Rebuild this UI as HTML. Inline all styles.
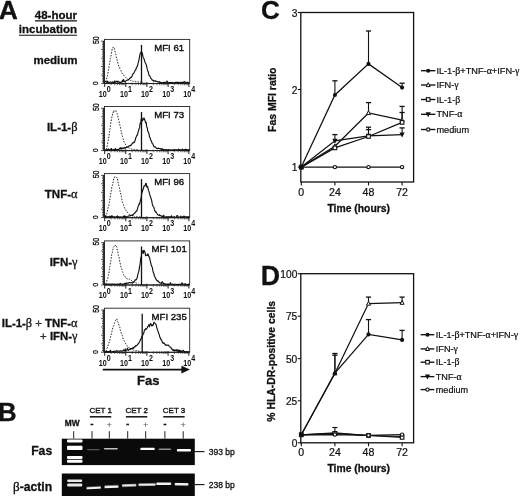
<!DOCTYPE html>
<html><head><meta charset="utf-8"><title>Figure</title>
<style>
html,body{margin:0;padding:0;background:#fff;}
body{width:520px;height:496px;overflow:hidden;font-family:"Liberation Sans", sans-serif;}
svg{display:block;font-family:"Liberation Sans", sans-serif;}
</style></head><body>
<svg width="520" height="496" viewBox="0 0 520 496">
<rect width="520" height="496" fill="#fff"/>
<text x="-1.2" y="19.0" font-size="26.5" text-anchor="start" font-weight="700" stroke="#111" stroke-width="0.3" fill="#111" >A</text>
<text x="77" y="19.2" font-size="11.5" text-anchor="end" font-weight="700" stroke="#111" stroke-width="0.3" fill="#111" >48-hour</text>
<line x1="35" y1="20.9" x2="77" y2="20.9" stroke="#111" stroke-width="1.1"/>
<text x="77" y="33.2" font-size="11.5" text-anchor="end" font-weight="700" stroke="#111" stroke-width="0.3" fill="#111" >incubation</text>
<line x1="19" y1="35.3" x2="77" y2="35.3" stroke="#111" stroke-width="1.1"/>
<rect x="104.4" y="39.4" width="85.29999999999998" height="44.0" fill="#fff" stroke="#222" stroke-width="0.9"/>
<line x1="103.9" y1="40.9" x2="103.9" y2="83.4" stroke="#222" stroke-width="1.5"/>
<line x1="101.10000000000001" y1="83.4" x2="104.4" y2="83.4" stroke="#222" stroke-width="0.8"/>
<line x1="102.10000000000001" y1="81.7" x2="104.4" y2="81.7" stroke="#222" stroke-width="0.8"/>
<line x1="102.10000000000001" y1="80.0" x2="104.4" y2="80.0" stroke="#222" stroke-width="0.8"/>
<line x1="102.10000000000001" y1="78.3" x2="104.4" y2="78.3" stroke="#222" stroke-width="0.8"/>
<line x1="102.10000000000001" y1="76.6" x2="104.4" y2="76.6" stroke="#222" stroke-width="0.8"/>
<line x1="101.10000000000001" y1="75.0" x2="104.4" y2="75.0" stroke="#222" stroke-width="0.8"/>
<line x1="102.10000000000001" y1="73.3" x2="104.4" y2="73.3" stroke="#222" stroke-width="0.8"/>
<line x1="102.10000000000001" y1="71.6" x2="104.4" y2="71.6" stroke="#222" stroke-width="0.8"/>
<line x1="102.10000000000001" y1="69.9" x2="104.4" y2="69.9" stroke="#222" stroke-width="0.8"/>
<line x1="102.10000000000001" y1="68.2" x2="104.4" y2="68.2" stroke="#222" stroke-width="0.8"/>
<line x1="101.10000000000001" y1="66.5" x2="104.4" y2="66.5" stroke="#222" stroke-width="0.8"/>
<line x1="102.10000000000001" y1="64.8" x2="104.4" y2="64.8" stroke="#222" stroke-width="0.8"/>
<line x1="102.10000000000001" y1="63.1" x2="104.4" y2="63.1" stroke="#222" stroke-width="0.8"/>
<line x1="102.10000000000001" y1="61.5" x2="104.4" y2="61.5" stroke="#222" stroke-width="0.8"/>
<line x1="102.10000000000001" y1="59.8" x2="104.4" y2="59.8" stroke="#222" stroke-width="0.8"/>
<line x1="101.10000000000001" y1="58.1" x2="104.4" y2="58.1" stroke="#222" stroke-width="0.8"/>
<line x1="102.10000000000001" y1="56.4" x2="104.4" y2="56.4" stroke="#222" stroke-width="0.8"/>
<line x1="102.10000000000001" y1="54.7" x2="104.4" y2="54.7" stroke="#222" stroke-width="0.8"/>
<line x1="102.10000000000001" y1="53.0" x2="104.4" y2="53.0" stroke="#222" stroke-width="0.8"/>
<line x1="102.10000000000001" y1="51.3" x2="104.4" y2="51.3" stroke="#222" stroke-width="0.8"/>
<line x1="101.10000000000001" y1="49.6" x2="104.4" y2="49.6" stroke="#222" stroke-width="0.8"/>
<line x1="102.10000000000001" y1="48.0" x2="104.4" y2="48.0" stroke="#222" stroke-width="0.8"/>
<line x1="102.10000000000001" y1="46.3" x2="104.4" y2="46.3" stroke="#222" stroke-width="0.8"/>
<line x1="102.10000000000001" y1="44.6" x2="104.4" y2="44.6" stroke="#222" stroke-width="0.8"/>
<line x1="102.10000000000001" y1="42.9" x2="104.4" y2="42.9" stroke="#222" stroke-width="0.8"/>
<line x1="101.10000000000001" y1="41.2" x2="104.4" y2="41.2" stroke="#222" stroke-width="0.8"/>
<line x1="104.4" y1="83.60000000000001" x2="189.7" y2="83.60000000000001" stroke="#222" stroke-width="1.0"/>
<line x1="104.7" y1="82.2" x2="104.7" y2="87.0" stroke="#222" stroke-width="1.0"/>
<line x1="111.1" y1="82.60000000000001" x2="111.1" y2="85.2" stroke="#222" stroke-width="0.6"/>
<line x1="114.8" y1="82.60000000000001" x2="114.8" y2="85.2" stroke="#222" stroke-width="0.6"/>
<line x1="117.4" y1="82.60000000000001" x2="117.4" y2="85.2" stroke="#222" stroke-width="0.6"/>
<line x1="119.5" y1="82.60000000000001" x2="119.5" y2="85.2" stroke="#222" stroke-width="0.6"/>
<line x1="121.1" y1="82.60000000000001" x2="121.1" y2="85.2" stroke="#222" stroke-width="0.6"/>
<line x1="122.5" y1="82.60000000000001" x2="122.5" y2="85.2" stroke="#222" stroke-width="0.6"/>
<line x1="123.8" y1="82.60000000000001" x2="123.8" y2="85.2" stroke="#222" stroke-width="0.6"/>
<line x1="124.9" y1="82.60000000000001" x2="124.9" y2="85.2" stroke="#222" stroke-width="0.6"/>
<line x1="125.8" y1="82.2" x2="125.8" y2="87.0" stroke="#222" stroke-width="1.0"/>
<line x1="132.2" y1="82.60000000000001" x2="132.2" y2="85.2" stroke="#222" stroke-width="0.6"/>
<line x1="135.9" y1="82.60000000000001" x2="135.9" y2="85.2" stroke="#222" stroke-width="0.6"/>
<line x1="138.5" y1="82.60000000000001" x2="138.5" y2="85.2" stroke="#222" stroke-width="0.6"/>
<line x1="140.6" y1="82.60000000000001" x2="140.6" y2="85.2" stroke="#222" stroke-width="0.6"/>
<line x1="142.3" y1="82.60000000000001" x2="142.3" y2="85.2" stroke="#222" stroke-width="0.6"/>
<line x1="143.7" y1="82.60000000000001" x2="143.7" y2="85.2" stroke="#222" stroke-width="0.6"/>
<line x1="144.9" y1="82.60000000000001" x2="144.9" y2="85.2" stroke="#222" stroke-width="0.6"/>
<line x1="146.0" y1="82.60000000000001" x2="146.0" y2="85.2" stroke="#222" stroke-width="0.6"/>
<line x1="146.9" y1="82.2" x2="146.9" y2="87.0" stroke="#222" stroke-width="1.0"/>
<line x1="153.3" y1="82.60000000000001" x2="153.3" y2="85.2" stroke="#222" stroke-width="0.6"/>
<line x1="157.0" y1="82.60000000000001" x2="157.0" y2="85.2" stroke="#222" stroke-width="0.6"/>
<line x1="159.7" y1="82.60000000000001" x2="159.7" y2="85.2" stroke="#222" stroke-width="0.6"/>
<line x1="161.7" y1="82.60000000000001" x2="161.7" y2="85.2" stroke="#222" stroke-width="0.6"/>
<line x1="163.4" y1="82.60000000000001" x2="163.4" y2="85.2" stroke="#222" stroke-width="0.6"/>
<line x1="164.8" y1="82.60000000000001" x2="164.8" y2="85.2" stroke="#222" stroke-width="0.6"/>
<line x1="166.0" y1="82.60000000000001" x2="166.0" y2="85.2" stroke="#222" stroke-width="0.6"/>
<line x1="167.1" y1="82.60000000000001" x2="167.1" y2="85.2" stroke="#222" stroke-width="0.6"/>
<line x1="168.1" y1="82.2" x2="168.1" y2="87.0" stroke="#222" stroke-width="1.0"/>
<line x1="174.4" y1="82.60000000000001" x2="174.4" y2="85.2" stroke="#222" stroke-width="0.6"/>
<line x1="178.1" y1="82.60000000000001" x2="178.1" y2="85.2" stroke="#222" stroke-width="0.6"/>
<line x1="180.8" y1="82.60000000000001" x2="180.8" y2="85.2" stroke="#222" stroke-width="0.6"/>
<line x1="182.8" y1="82.60000000000001" x2="182.8" y2="85.2" stroke="#222" stroke-width="0.6"/>
<line x1="184.5" y1="82.60000000000001" x2="184.5" y2="85.2" stroke="#222" stroke-width="0.6"/>
<line x1="185.9" y1="82.60000000000001" x2="185.9" y2="85.2" stroke="#222" stroke-width="0.6"/>
<line x1="187.1" y1="82.60000000000001" x2="187.1" y2="85.2" stroke="#222" stroke-width="0.6"/>
<line x1="188.2" y1="82.60000000000001" x2="188.2" y2="85.2" stroke="#222" stroke-width="0.6"/>
<line x1="188.9" y1="82.2" x2="188.9" y2="87.0" stroke="#222" stroke-width="1.0"/>
<text transform="translate(106.8,96.7) scale(0.77,1)" font-size="9.3" font-weight="700" text-anchor="end" fill="#111">10</text>
<text transform="translate(106.8,92.2) scale(0.78,1)" font-size="9.1" font-weight="700" text-anchor="start" fill="#111">0</text>
<text transform="translate(127.9,96.7) scale(0.77,1)" font-size="9.3" font-weight="700" text-anchor="end" fill="#111">10</text>
<text transform="translate(127.9,92.2) scale(0.78,1)" font-size="9.1" font-weight="700" text-anchor="start" fill="#111">1</text>
<text transform="translate(149.0,96.7) scale(0.77,1)" font-size="9.3" font-weight="700" text-anchor="end" fill="#111">10</text>
<text transform="translate(149.0,92.2) scale(0.78,1)" font-size="9.1" font-weight="700" text-anchor="start" fill="#111">2</text>
<text transform="translate(170.2,96.7) scale(0.77,1)" font-size="9.3" font-weight="700" text-anchor="end" fill="#111">10</text>
<text transform="translate(170.2,92.2) scale(0.78,1)" font-size="9.1" font-weight="700" text-anchor="start" fill="#111">3</text>
<text transform="translate(191.3,96.7) scale(0.77,1)" font-size="9.3" font-weight="700" text-anchor="end" fill="#111">10</text>
<text transform="translate(191.3,92.2) scale(0.78,1)" font-size="9.1" font-weight="700" text-anchor="start" fill="#111">4</text>
<text transform="translate(98.80000000000001,40.199999999999996) rotate(-90) scale(0.8,1)" font-size="8.6" text-anchor="middle" fill="#111" stroke="#111" stroke-width="0.35">50</text>
<text transform="translate(98.2,83.10000000000001) rotate(-90) scale(0.8,1)" font-size="8" text-anchor="middle" fill="#111" stroke="#111" stroke-width="0.35">0</text>
<path d="M105.9,82.0 L106.4,80.1 L106.9,77.5 L107.4,75.8 L107.9,73.1 L108.4,70.5 L108.9,67.8 L109.4,64.3 L109.9,62.0 L110.4,58.5 L110.9,56.3 L111.4,53.5 L111.9,50.3 L112.4,48.1 L112.9,48.1 L113.4,47.0 L113.9,47.6 L114.4,48.4 L114.9,50.8 L115.4,53.3 L115.9,54.5 L116.4,58.2 L116.9,58.7 L117.4,61.3 L117.9,63.3 L118.4,65.0 L118.9,66.2 L119.4,66.7 L119.9,68.6 L120.4,69.3 L120.9,70.4 L121.4,71.9 L121.9,72.7 L122.4,73.9 L122.9,74.5 L123.4,75.1 L123.9,75.3 L124.4,76.2 L124.9,76.9 L125.4,77.1 L125.9,77.6 L126.4,78.1 L126.9,78.1 L127.4,78.5 L127.9,79.2 L128.4,79.4 L128.9,79.8 L129.4,79.8 L129.9,80.1 L130.4,80.5 L130.9,80.2 L131.4,80.9 L131.9,80.8 L132.4,80.8 L132.9,81.3 L133.4,81.2 L133.9,81.6 L134.4,81.3 L134.9,81.3 L135.4,81.5 L135.9,81.3 L136.4,81.6 L136.9,81.6 L137.4,81.8 L137.9,81.9 L138.4,81.9 L138.9,81.7 L139.4,81.7 L139.9,82.2 L140.4,82.1 L140.9,81.9 L141.4,82.2 L141.9,82.3 L142.4,82.1 L142.9,82.3" fill="none" stroke="#222" stroke-width="1" stroke-dasharray="1.5 1.4"/>
<path d="M104.9,82.3 L105.5,81.3 L106.0,81.5 L106.5,82.3 L107.1,82.3 L107.6,81.1 L108.2,82.6 L108.7,82.2 L109.3,82.3 L109.8,82.4 L110.4,82.0 L110.9,82.2 L111.5,82.3 L112.0,82.5 L112.6,81.9 L113.1,82.4 L113.7,82.0 L114.2,82.6 L114.8,80.9 L115.3,82.2 L115.9,82.2 L116.4,81.3 L117.0,81.2 L117.5,82.2 L118.1,81.2 L118.6,82.1 L119.2,82.0 L119.7,82.5 L120.3,82.3 L120.8,82.4 L121.4,82.1 L121.9,82.0 L122.5,80.3 L123.0,81.4 L123.6,79.5 L124.1,81.4 L124.7,81.3 L125.2,81.7 L125.8,81.0 L126.3,80.3 L126.9,80.3 L127.4,80.1 L128.0,80.2 L128.5,79.6 L129.1,79.4 L129.6,78.2 L130.2,78.1 L130.7,77.3 L131.3,77.4 L131.8,76.8 L132.4,75.1 L132.9,74.0 L133.5,73.4 L134.1,72.6 L134.6,71.6 L135.2,70.3 L135.7,70.0 L136.3,68.0 L136.8,67.0 L137.4,66.1 L137.9,64.2 L138.5,61.7 L139.0,59.8 L139.6,56.5 L140.1,53.5 L140.7,53.1 L141.2,51.6 L141.8,52.3 L142.3,53.2 L142.9,56.2 L143.4,57.7 L144.0,58.7 L144.5,60.6 L145.1,62.5 L145.6,63.3 L146.2,64.6 L146.7,66.7 L147.3,69.4 L147.8,71.0 L148.4,72.5 L148.9,75.1 L149.5,75.6 L150.0,76.6 L150.6,77.8 L151.1,78.4 L151.7,79.3 L152.2,80.2 L152.8,80.0 L153.3,81.1 L153.9,80.8 L154.4,80.8 L155.0,81.3 L155.5,80.8 L156.1,81.2 L156.6,81.3 L157.2,81.5 L157.7,81.6 L158.3,82.0 L158.8,82.2 L159.4,81.7 L159.9,82.7 L160.5,82.3 L161.0,82.4 L161.6,82.5 L162.1,82.6 L162.7,82.8 L163.2,82.8 L163.8,82.3 L164.3,82.8 L164.9,82.3 L165.4,82.3 L166.0,82.8 L166.5,82.2 L167.1,81.0 L167.6,82.4 L168.2,82.6 L168.7,82.6 L169.3,82.8 L169.8,82.3 L170.4,82.5 L170.9,82.5 L171.5,82.8 L172.0,82.3 L172.6,82.7 L173.1,82.9 L173.7,82.8 L174.2,82.9 L174.8,82.6 L175.3,82.3 L175.9,82.8 L176.4,82.4 L177.0,82.4 L177.5,82.3 L178.1,82.3 L178.6,82.5 L179.2,82.4 L179.7,82.7 L180.3,82.4 L180.8,82.5 L181.4,82.7 L181.9,82.2 L182.5,82.4 L183.0,82.9 L183.6,82.5 L184.1,81.4 L184.7,81.9 L185.2,82.7 L185.8,82.3 L186.3,82.5 L186.9,82.3 L187.4,82.2 L188.0,82.6 L188.5,82.8 L189.1,82.4" fill="none" stroke="#111" stroke-width="1.15" stroke-linejoin="round"/>
<line x1="141.5" y1="44.9" x2="141.5" y2="83.4" stroke="#111" stroke-width="1.3"/>
<text x="169.2" y="50.8" font-size="9.6" text-anchor="middle" stroke="#111" stroke-width="0.4" fill="#111" >MFI 61</text>
<text x="77.5" y="64.2" font-size="11.5" text-anchor="end" font-weight="700" stroke="#111" stroke-width="0.3" fill="#111" >medium</text>
<rect x="104.4" y="106.5" width="85.29999999999998" height="44.0" fill="#fff" stroke="#222" stroke-width="0.9"/>
<line x1="103.9" y1="108.0" x2="103.9" y2="150.5" stroke="#222" stroke-width="1.5"/>
<line x1="101.10000000000001" y1="150.5" x2="104.4" y2="150.5" stroke="#222" stroke-width="0.8"/>
<line x1="102.10000000000001" y1="148.8" x2="104.4" y2="148.8" stroke="#222" stroke-width="0.8"/>
<line x1="102.10000000000001" y1="147.1" x2="104.4" y2="147.1" stroke="#222" stroke-width="0.8"/>
<line x1="102.10000000000001" y1="145.4" x2="104.4" y2="145.4" stroke="#222" stroke-width="0.8"/>
<line x1="102.10000000000001" y1="143.7" x2="104.4" y2="143.7" stroke="#222" stroke-width="0.8"/>
<line x1="101.10000000000001" y1="142.1" x2="104.4" y2="142.1" stroke="#222" stroke-width="0.8"/>
<line x1="102.10000000000001" y1="140.4" x2="104.4" y2="140.4" stroke="#222" stroke-width="0.8"/>
<line x1="102.10000000000001" y1="138.7" x2="104.4" y2="138.7" stroke="#222" stroke-width="0.8"/>
<line x1="102.10000000000001" y1="137.0" x2="104.4" y2="137.0" stroke="#222" stroke-width="0.8"/>
<line x1="102.10000000000001" y1="135.3" x2="104.4" y2="135.3" stroke="#222" stroke-width="0.8"/>
<line x1="101.10000000000001" y1="133.6" x2="104.4" y2="133.6" stroke="#222" stroke-width="0.8"/>
<line x1="102.10000000000001" y1="131.9" x2="104.4" y2="131.9" stroke="#222" stroke-width="0.8"/>
<line x1="102.10000000000001" y1="130.2" x2="104.4" y2="130.2" stroke="#222" stroke-width="0.8"/>
<line x1="102.10000000000001" y1="128.6" x2="104.4" y2="128.6" stroke="#222" stroke-width="0.8"/>
<line x1="102.10000000000001" y1="126.9" x2="104.4" y2="126.9" stroke="#222" stroke-width="0.8"/>
<line x1="101.10000000000001" y1="125.2" x2="104.4" y2="125.2" stroke="#222" stroke-width="0.8"/>
<line x1="102.10000000000001" y1="123.5" x2="104.4" y2="123.5" stroke="#222" stroke-width="0.8"/>
<line x1="102.10000000000001" y1="121.8" x2="104.4" y2="121.8" stroke="#222" stroke-width="0.8"/>
<line x1="102.10000000000001" y1="120.1" x2="104.4" y2="120.1" stroke="#222" stroke-width="0.8"/>
<line x1="102.10000000000001" y1="118.4" x2="104.4" y2="118.4" stroke="#222" stroke-width="0.8"/>
<line x1="101.10000000000001" y1="116.7" x2="104.4" y2="116.7" stroke="#222" stroke-width="0.8"/>
<line x1="102.10000000000001" y1="115.1" x2="104.4" y2="115.1" stroke="#222" stroke-width="0.8"/>
<line x1="102.10000000000001" y1="113.4" x2="104.4" y2="113.4" stroke="#222" stroke-width="0.8"/>
<line x1="102.10000000000001" y1="111.7" x2="104.4" y2="111.7" stroke="#222" stroke-width="0.8"/>
<line x1="102.10000000000001" y1="110.0" x2="104.4" y2="110.0" stroke="#222" stroke-width="0.8"/>
<line x1="101.10000000000001" y1="108.3" x2="104.4" y2="108.3" stroke="#222" stroke-width="0.8"/>
<line x1="104.4" y1="150.7" x2="189.7" y2="150.7" stroke="#222" stroke-width="1.0"/>
<line x1="104.7" y1="149.3" x2="104.7" y2="154.1" stroke="#222" stroke-width="1.0"/>
<line x1="111.1" y1="149.7" x2="111.1" y2="152.3" stroke="#222" stroke-width="0.6"/>
<line x1="114.8" y1="149.7" x2="114.8" y2="152.3" stroke="#222" stroke-width="0.6"/>
<line x1="117.4" y1="149.7" x2="117.4" y2="152.3" stroke="#222" stroke-width="0.6"/>
<line x1="119.5" y1="149.7" x2="119.5" y2="152.3" stroke="#222" stroke-width="0.6"/>
<line x1="121.1" y1="149.7" x2="121.1" y2="152.3" stroke="#222" stroke-width="0.6"/>
<line x1="122.5" y1="149.7" x2="122.5" y2="152.3" stroke="#222" stroke-width="0.6"/>
<line x1="123.8" y1="149.7" x2="123.8" y2="152.3" stroke="#222" stroke-width="0.6"/>
<line x1="124.9" y1="149.7" x2="124.9" y2="152.3" stroke="#222" stroke-width="0.6"/>
<line x1="125.8" y1="149.3" x2="125.8" y2="154.1" stroke="#222" stroke-width="1.0"/>
<line x1="132.2" y1="149.7" x2="132.2" y2="152.3" stroke="#222" stroke-width="0.6"/>
<line x1="135.9" y1="149.7" x2="135.9" y2="152.3" stroke="#222" stroke-width="0.6"/>
<line x1="138.5" y1="149.7" x2="138.5" y2="152.3" stroke="#222" stroke-width="0.6"/>
<line x1="140.6" y1="149.7" x2="140.6" y2="152.3" stroke="#222" stroke-width="0.6"/>
<line x1="142.3" y1="149.7" x2="142.3" y2="152.3" stroke="#222" stroke-width="0.6"/>
<line x1="143.7" y1="149.7" x2="143.7" y2="152.3" stroke="#222" stroke-width="0.6"/>
<line x1="144.9" y1="149.7" x2="144.9" y2="152.3" stroke="#222" stroke-width="0.6"/>
<line x1="146.0" y1="149.7" x2="146.0" y2="152.3" stroke="#222" stroke-width="0.6"/>
<line x1="146.9" y1="149.3" x2="146.9" y2="154.1" stroke="#222" stroke-width="1.0"/>
<line x1="153.3" y1="149.7" x2="153.3" y2="152.3" stroke="#222" stroke-width="0.6"/>
<line x1="157.0" y1="149.7" x2="157.0" y2="152.3" stroke="#222" stroke-width="0.6"/>
<line x1="159.7" y1="149.7" x2="159.7" y2="152.3" stroke="#222" stroke-width="0.6"/>
<line x1="161.7" y1="149.7" x2="161.7" y2="152.3" stroke="#222" stroke-width="0.6"/>
<line x1="163.4" y1="149.7" x2="163.4" y2="152.3" stroke="#222" stroke-width="0.6"/>
<line x1="164.8" y1="149.7" x2="164.8" y2="152.3" stroke="#222" stroke-width="0.6"/>
<line x1="166.0" y1="149.7" x2="166.0" y2="152.3" stroke="#222" stroke-width="0.6"/>
<line x1="167.1" y1="149.7" x2="167.1" y2="152.3" stroke="#222" stroke-width="0.6"/>
<line x1="168.1" y1="149.3" x2="168.1" y2="154.1" stroke="#222" stroke-width="1.0"/>
<line x1="174.4" y1="149.7" x2="174.4" y2="152.3" stroke="#222" stroke-width="0.6"/>
<line x1="178.1" y1="149.7" x2="178.1" y2="152.3" stroke="#222" stroke-width="0.6"/>
<line x1="180.8" y1="149.7" x2="180.8" y2="152.3" stroke="#222" stroke-width="0.6"/>
<line x1="182.8" y1="149.7" x2="182.8" y2="152.3" stroke="#222" stroke-width="0.6"/>
<line x1="184.5" y1="149.7" x2="184.5" y2="152.3" stroke="#222" stroke-width="0.6"/>
<line x1="185.9" y1="149.7" x2="185.9" y2="152.3" stroke="#222" stroke-width="0.6"/>
<line x1="187.1" y1="149.7" x2="187.1" y2="152.3" stroke="#222" stroke-width="0.6"/>
<line x1="188.2" y1="149.7" x2="188.2" y2="152.3" stroke="#222" stroke-width="0.6"/>
<line x1="188.9" y1="149.3" x2="188.9" y2="154.1" stroke="#222" stroke-width="1.0"/>
<text transform="translate(106.8,163.8) scale(0.77,1)" font-size="9.3" font-weight="700" text-anchor="end" fill="#111">10</text>
<text transform="translate(106.8,159.3) scale(0.78,1)" font-size="9.1" font-weight="700" text-anchor="start" fill="#111">0</text>
<text transform="translate(127.9,163.8) scale(0.77,1)" font-size="9.3" font-weight="700" text-anchor="end" fill="#111">10</text>
<text transform="translate(127.9,159.3) scale(0.78,1)" font-size="9.1" font-weight="700" text-anchor="start" fill="#111">1</text>
<text transform="translate(149.0,163.8) scale(0.77,1)" font-size="9.3" font-weight="700" text-anchor="end" fill="#111">10</text>
<text transform="translate(149.0,159.3) scale(0.78,1)" font-size="9.1" font-weight="700" text-anchor="start" fill="#111">2</text>
<text transform="translate(170.2,163.8) scale(0.77,1)" font-size="9.3" font-weight="700" text-anchor="end" fill="#111">10</text>
<text transform="translate(170.2,159.3) scale(0.78,1)" font-size="9.1" font-weight="700" text-anchor="start" fill="#111">3</text>
<text transform="translate(191.3,163.8) scale(0.77,1)" font-size="9.3" font-weight="700" text-anchor="end" fill="#111">10</text>
<text transform="translate(191.3,159.3) scale(0.78,1)" font-size="9.1" font-weight="700" text-anchor="start" fill="#111">4</text>
<text transform="translate(98.80000000000001,107.3) rotate(-90) scale(0.8,1)" font-size="8.6" text-anchor="middle" fill="#111" stroke="#111" stroke-width="0.35">50</text>
<text transform="translate(98.2,150.2) rotate(-90) scale(0.8,1)" font-size="8" text-anchor="middle" fill="#111" stroke="#111" stroke-width="0.35">0</text>
<path d="M106.5,149.6 L107.0,146.8 L107.5,144.3 L108.0,141.4 L108.5,139.3 L109.0,136.0 L109.5,131.8 L110.0,128.6 L110.5,125.7 L111.0,121.4 L111.5,119.3 L112.0,116.5 L112.5,115.4 L113.0,111.9 L113.5,112.9 L114.0,110.7 L114.5,111.0 L115.0,110.7 L115.5,110.8 L116.0,110.7 L116.5,112.6 L117.0,113.5 L117.5,114.5 L118.0,117.0 L118.5,119.2 L119.0,121.1 L119.5,123.6 L120.0,125.8 L120.5,128.1 L121.0,130.6 L121.5,132.3 L122.0,134.7 L122.5,136.4 L123.0,138.6 L123.5,140.3 L124.0,142.1 L124.5,142.8 L125.0,143.9 L125.5,144.2 L126.0,145.2 L126.5,146.4 L127.0,147.1 L127.5,147.0 L128.0,147.8 L128.5,147.6 L129.0,148.0 L129.5,148.2 L130.0,148.2 L130.5,148.5 L131.0,148.9 L131.5,148.9 L132.0,148.9 L132.5,149.3 L133.0,149.2 L133.5,149.4 L134.0,149.5 L134.5,149.6 L135.0,149.6 L135.5,149.4 L136.0,149.6 L136.5,149.6 L137.0,149.8 L137.5,149.8 L138.0,149.8 L138.5,149.8 L139.0,149.9 L139.5,150.0" fill="none" stroke="#222" stroke-width="1" stroke-dasharray="1.5 1.4"/>
<path d="M104.9,149.9 L105.5,149.8 L106.0,150.1 L106.5,150.0 L107.1,149.5 L107.6,150.1 L108.2,149.5 L108.7,148.9 L109.3,150.1 L109.8,149.7 L110.4,149.4 L110.9,149.5 L111.5,148.6 L112.0,149.7 L112.6,150.1 L113.1,149.9 L113.7,149.6 L114.2,149.9 L114.8,149.6 L115.3,148.5 L115.9,149.6 L116.4,149.8 L117.0,149.6 L117.5,149.8 L118.1,149.3 L118.6,149.5 L119.2,149.3 L119.7,148.3 L120.3,147.7 L120.8,149.1 L121.4,148.9 L121.9,147.6 L122.5,148.5 L123.0,148.7 L123.6,148.0 L124.1,147.3 L124.7,148.2 L125.2,148.5 L125.8,147.7 L126.3,147.1 L126.9,147.4 L127.4,147.2 L128.0,146.8 L128.5,146.3 L129.1,145.9 L129.6,145.8 L130.2,145.4 L130.7,145.6 L131.3,145.0 L131.8,144.3 L132.4,143.1 L132.9,143.2 L133.5,142.2 L134.1,142.6 L134.6,141.7 L135.2,140.1 L135.7,138.1 L136.3,136.8 L136.8,135.5 L137.4,135.0 L137.9,132.8 L138.5,130.9 L139.0,128.8 L139.6,127.8 L140.1,123.4 L140.7,123.7 L141.2,119.3 L141.8,117.5 L142.3,120.9 L142.9,119.9 L143.4,119.1 L144.0,117.9 L144.5,119.0 L145.1,121.0 L145.6,122.9 L146.2,122.4 L146.7,126.8 L147.3,128.0 L147.8,131.3 L148.4,132.4 L148.9,133.3 L149.5,136.9 L150.0,137.4 L150.6,139.8 L151.1,140.4 L151.7,141.8 L152.2,143.6 L152.8,143.7 L153.3,145.3 L153.9,146.5 L154.4,147.0 L155.0,146.8 L155.5,147.2 L156.1,147.8 L156.6,148.4 L157.2,148.6 L157.7,148.5 L158.3,148.1 L158.8,148.5 L159.4,148.5 L159.9,148.6 L160.5,149.2 L161.0,148.7 L161.6,149.4 L162.1,148.7 L162.7,149.3 L163.2,149.3 L163.8,149.7 L164.3,149.8 L164.9,149.6 L165.4,149.8 L166.0,149.7 L166.5,150.2 L167.1,149.6 L167.6,150.2 L168.2,150.0 L168.7,149.6 L169.3,149.7 L169.8,150.0 L170.4,149.9 L170.9,149.9 L171.5,150.0 L172.0,150.1 L172.6,149.8 L173.1,149.7 L173.7,149.9 L174.2,149.6 L174.8,149.7 L175.3,149.7 L175.9,149.7 L176.4,149.9 L177.0,149.7 L177.5,150.1 L178.1,150.2 L178.6,149.1 L179.2,149.6 L179.7,150.2 L180.3,149.7 L180.8,149.9 L181.4,150.1 L181.9,149.6 L182.5,149.1 L183.0,150.0 L183.6,150.2 L184.1,149.6 L184.7,149.7 L185.2,149.8 L185.8,149.1 L186.3,150.2 L186.9,149.6 L187.4,150.0 L188.0,150.2 L188.5,149.6 L189.1,149.9" fill="none" stroke="#111" stroke-width="1.15" stroke-linejoin="round"/>
<line x1="141.5" y1="112.0" x2="141.5" y2="150.5" stroke="#111" stroke-width="1.3"/>
<text x="169.2" y="117.9" font-size="9.6" text-anchor="middle" stroke="#111" stroke-width="0.4" fill="#111" >MFI 73</text>
<text x="77.5" y="130.8" font-size="11.5" text-anchor="end" font-weight="700" stroke="#111" stroke-width="0.3" fill="#111" >IL-1-<tspan font-family='"Liberation Serif", serif' font-weight="400" font-size="108%">β</tspan></text>
<rect x="104.4" y="173.6" width="85.29999999999998" height="44.0" fill="#fff" stroke="#222" stroke-width="0.9"/>
<line x1="103.9" y1="175.1" x2="103.9" y2="217.6" stroke="#222" stroke-width="1.5"/>
<line x1="101.10000000000001" y1="217.6" x2="104.4" y2="217.6" stroke="#222" stroke-width="0.8"/>
<line x1="102.10000000000001" y1="215.9" x2="104.4" y2="215.9" stroke="#222" stroke-width="0.8"/>
<line x1="102.10000000000001" y1="214.2" x2="104.4" y2="214.2" stroke="#222" stroke-width="0.8"/>
<line x1="102.10000000000001" y1="212.5" x2="104.4" y2="212.5" stroke="#222" stroke-width="0.8"/>
<line x1="102.10000000000001" y1="210.8" x2="104.4" y2="210.8" stroke="#222" stroke-width="0.8"/>
<line x1="101.10000000000001" y1="209.2" x2="104.4" y2="209.2" stroke="#222" stroke-width="0.8"/>
<line x1="102.10000000000001" y1="207.5" x2="104.4" y2="207.5" stroke="#222" stroke-width="0.8"/>
<line x1="102.10000000000001" y1="205.8" x2="104.4" y2="205.8" stroke="#222" stroke-width="0.8"/>
<line x1="102.10000000000001" y1="204.1" x2="104.4" y2="204.1" stroke="#222" stroke-width="0.8"/>
<line x1="102.10000000000001" y1="202.4" x2="104.4" y2="202.4" stroke="#222" stroke-width="0.8"/>
<line x1="101.10000000000001" y1="200.7" x2="104.4" y2="200.7" stroke="#222" stroke-width="0.8"/>
<line x1="102.10000000000001" y1="199.0" x2="104.4" y2="199.0" stroke="#222" stroke-width="0.8"/>
<line x1="102.10000000000001" y1="197.3" x2="104.4" y2="197.3" stroke="#222" stroke-width="0.8"/>
<line x1="102.10000000000001" y1="195.7" x2="104.4" y2="195.7" stroke="#222" stroke-width="0.8"/>
<line x1="102.10000000000001" y1="194.0" x2="104.4" y2="194.0" stroke="#222" stroke-width="0.8"/>
<line x1="101.10000000000001" y1="192.3" x2="104.4" y2="192.3" stroke="#222" stroke-width="0.8"/>
<line x1="102.10000000000001" y1="190.6" x2="104.4" y2="190.6" stroke="#222" stroke-width="0.8"/>
<line x1="102.10000000000001" y1="188.9" x2="104.4" y2="188.9" stroke="#222" stroke-width="0.8"/>
<line x1="102.10000000000001" y1="187.2" x2="104.4" y2="187.2" stroke="#222" stroke-width="0.8"/>
<line x1="102.10000000000001" y1="185.5" x2="104.4" y2="185.5" stroke="#222" stroke-width="0.8"/>
<line x1="101.10000000000001" y1="183.8" x2="104.4" y2="183.8" stroke="#222" stroke-width="0.8"/>
<line x1="102.10000000000001" y1="182.2" x2="104.4" y2="182.2" stroke="#222" stroke-width="0.8"/>
<line x1="102.10000000000001" y1="180.5" x2="104.4" y2="180.5" stroke="#222" stroke-width="0.8"/>
<line x1="102.10000000000001" y1="178.8" x2="104.4" y2="178.8" stroke="#222" stroke-width="0.8"/>
<line x1="102.10000000000001" y1="177.1" x2="104.4" y2="177.1" stroke="#222" stroke-width="0.8"/>
<line x1="101.10000000000001" y1="175.4" x2="104.4" y2="175.4" stroke="#222" stroke-width="0.8"/>
<line x1="104.4" y1="217.79999999999998" x2="189.7" y2="217.79999999999998" stroke="#222" stroke-width="1.0"/>
<line x1="104.7" y1="216.4" x2="104.7" y2="221.2" stroke="#222" stroke-width="1.0"/>
<line x1="111.1" y1="216.79999999999998" x2="111.1" y2="219.4" stroke="#222" stroke-width="0.6"/>
<line x1="114.8" y1="216.79999999999998" x2="114.8" y2="219.4" stroke="#222" stroke-width="0.6"/>
<line x1="117.4" y1="216.79999999999998" x2="117.4" y2="219.4" stroke="#222" stroke-width="0.6"/>
<line x1="119.5" y1="216.79999999999998" x2="119.5" y2="219.4" stroke="#222" stroke-width="0.6"/>
<line x1="121.1" y1="216.79999999999998" x2="121.1" y2="219.4" stroke="#222" stroke-width="0.6"/>
<line x1="122.5" y1="216.79999999999998" x2="122.5" y2="219.4" stroke="#222" stroke-width="0.6"/>
<line x1="123.8" y1="216.79999999999998" x2="123.8" y2="219.4" stroke="#222" stroke-width="0.6"/>
<line x1="124.9" y1="216.79999999999998" x2="124.9" y2="219.4" stroke="#222" stroke-width="0.6"/>
<line x1="125.8" y1="216.4" x2="125.8" y2="221.2" stroke="#222" stroke-width="1.0"/>
<line x1="132.2" y1="216.79999999999998" x2="132.2" y2="219.4" stroke="#222" stroke-width="0.6"/>
<line x1="135.9" y1="216.79999999999998" x2="135.9" y2="219.4" stroke="#222" stroke-width="0.6"/>
<line x1="138.5" y1="216.79999999999998" x2="138.5" y2="219.4" stroke="#222" stroke-width="0.6"/>
<line x1="140.6" y1="216.79999999999998" x2="140.6" y2="219.4" stroke="#222" stroke-width="0.6"/>
<line x1="142.3" y1="216.79999999999998" x2="142.3" y2="219.4" stroke="#222" stroke-width="0.6"/>
<line x1="143.7" y1="216.79999999999998" x2="143.7" y2="219.4" stroke="#222" stroke-width="0.6"/>
<line x1="144.9" y1="216.79999999999998" x2="144.9" y2="219.4" stroke="#222" stroke-width="0.6"/>
<line x1="146.0" y1="216.79999999999998" x2="146.0" y2="219.4" stroke="#222" stroke-width="0.6"/>
<line x1="146.9" y1="216.4" x2="146.9" y2="221.2" stroke="#222" stroke-width="1.0"/>
<line x1="153.3" y1="216.79999999999998" x2="153.3" y2="219.4" stroke="#222" stroke-width="0.6"/>
<line x1="157.0" y1="216.79999999999998" x2="157.0" y2="219.4" stroke="#222" stroke-width="0.6"/>
<line x1="159.7" y1="216.79999999999998" x2="159.7" y2="219.4" stroke="#222" stroke-width="0.6"/>
<line x1="161.7" y1="216.79999999999998" x2="161.7" y2="219.4" stroke="#222" stroke-width="0.6"/>
<line x1="163.4" y1="216.79999999999998" x2="163.4" y2="219.4" stroke="#222" stroke-width="0.6"/>
<line x1="164.8" y1="216.79999999999998" x2="164.8" y2="219.4" stroke="#222" stroke-width="0.6"/>
<line x1="166.0" y1="216.79999999999998" x2="166.0" y2="219.4" stroke="#222" stroke-width="0.6"/>
<line x1="167.1" y1="216.79999999999998" x2="167.1" y2="219.4" stroke="#222" stroke-width="0.6"/>
<line x1="168.1" y1="216.4" x2="168.1" y2="221.2" stroke="#222" stroke-width="1.0"/>
<line x1="174.4" y1="216.79999999999998" x2="174.4" y2="219.4" stroke="#222" stroke-width="0.6"/>
<line x1="178.1" y1="216.79999999999998" x2="178.1" y2="219.4" stroke="#222" stroke-width="0.6"/>
<line x1="180.8" y1="216.79999999999998" x2="180.8" y2="219.4" stroke="#222" stroke-width="0.6"/>
<line x1="182.8" y1="216.79999999999998" x2="182.8" y2="219.4" stroke="#222" stroke-width="0.6"/>
<line x1="184.5" y1="216.79999999999998" x2="184.5" y2="219.4" stroke="#222" stroke-width="0.6"/>
<line x1="185.9" y1="216.79999999999998" x2="185.9" y2="219.4" stroke="#222" stroke-width="0.6"/>
<line x1="187.1" y1="216.79999999999998" x2="187.1" y2="219.4" stroke="#222" stroke-width="0.6"/>
<line x1="188.2" y1="216.79999999999998" x2="188.2" y2="219.4" stroke="#222" stroke-width="0.6"/>
<line x1="188.9" y1="216.4" x2="188.9" y2="221.2" stroke="#222" stroke-width="1.0"/>
<text transform="translate(106.8,230.9) scale(0.77,1)" font-size="9.3" font-weight="700" text-anchor="end" fill="#111">10</text>
<text transform="translate(106.8,226.4) scale(0.78,1)" font-size="9.1" font-weight="700" text-anchor="start" fill="#111">0</text>
<text transform="translate(127.9,230.9) scale(0.77,1)" font-size="9.3" font-weight="700" text-anchor="end" fill="#111">10</text>
<text transform="translate(127.9,226.4) scale(0.78,1)" font-size="9.1" font-weight="700" text-anchor="start" fill="#111">1</text>
<text transform="translate(149.0,230.9) scale(0.77,1)" font-size="9.3" font-weight="700" text-anchor="end" fill="#111">10</text>
<text transform="translate(149.0,226.4) scale(0.78,1)" font-size="9.1" font-weight="700" text-anchor="start" fill="#111">2</text>
<text transform="translate(170.2,230.9) scale(0.77,1)" font-size="9.3" font-weight="700" text-anchor="end" fill="#111">10</text>
<text transform="translate(170.2,226.4) scale(0.78,1)" font-size="9.1" font-weight="700" text-anchor="start" fill="#111">3</text>
<text transform="translate(191.3,230.9) scale(0.77,1)" font-size="9.3" font-weight="700" text-anchor="end" fill="#111">10</text>
<text transform="translate(191.3,226.4) scale(0.78,1)" font-size="9.1" font-weight="700" text-anchor="start" fill="#111">4</text>
<text transform="translate(98.80000000000001,174.4) rotate(-90) scale(0.8,1)" font-size="8.6" text-anchor="middle" fill="#111" stroke="#111" stroke-width="0.35">50</text>
<text transform="translate(98.2,217.29999999999998) rotate(-90) scale(0.8,1)" font-size="8" text-anchor="middle" fill="#111" stroke="#111" stroke-width="0.35">0</text>
<path d="M105.9,217.1 L106.4,215.2 L106.9,213.2 L107.4,211.1 L107.9,208.7 L108.4,206.5 L108.9,205.0 L109.4,202.3 L109.9,198.7 L110.4,195.6 L110.9,192.8 L111.4,190.0 L111.9,186.4 L112.4,185.5 L112.9,183.0 L113.4,180.7 L113.9,177.7 L114.4,177.7 L114.9,176.6 L115.4,176.9 L115.9,177.0 L116.4,177.9 L116.9,177.4 L117.4,178.9 L117.9,181.5 L118.4,184.3 L118.9,185.7 L119.4,187.6 L119.9,190.3 L120.4,192.8 L120.9,194.5 L121.4,196.5 L121.9,199.7 L122.4,201.9 L122.9,203.0 L123.4,204.5 L123.9,205.8 L124.4,207.8 L124.9,208.8 L125.4,209.5 L125.9,210.3 L126.4,211.2 L126.9,211.2 L127.4,212.4 L127.9,212.6 L128.4,213.7 L128.9,214.3 L129.4,214.3 L129.9,214.9 L130.4,214.6 L130.9,215.1 L131.4,215.5 L131.9,215.7 L132.4,215.6 L132.9,215.8 L133.4,215.7 L133.9,216.0 L134.4,216.4 L134.9,216.4 L135.4,216.3 L135.9,216.4 L136.4,216.4 L136.9,216.5 L137.4,216.8 L137.9,216.7 L138.4,216.7 L138.9,216.9 L139.4,216.8 L139.9,216.9 L140.4,217.2" fill="none" stroke="#222" stroke-width="1" stroke-dasharray="1.5 1.4"/>
<path d="M104.9,216.9 L105.5,215.7 L106.0,217.2 L106.5,217.1 L107.1,216.7 L107.6,217.1 L108.2,216.8 L108.7,216.9 L109.3,216.9 L109.8,216.2 L110.4,217.2 L110.9,216.9 L111.5,215.8 L112.0,216.9 L112.6,216.0 L113.1,216.8 L113.7,217.0 L114.2,217.1 L114.8,216.7 L115.3,217.0 L115.9,217.1 L116.4,216.7 L117.0,216.8 L117.5,215.9 L118.1,217.3 L118.6,216.7 L119.2,217.0 L119.7,217.3 L120.3,216.9 L120.8,217.0 L121.4,217.0 L121.9,217.1 L122.5,217.2 L123.0,216.8 L123.6,217.0 L124.1,215.6 L124.7,217.1 L125.2,216.8 L125.8,216.3 L126.3,217.1 L126.9,216.9 L127.4,216.7 L128.0,216.4 L128.5,216.0 L129.1,215.8 L129.6,215.9 L130.2,215.9 L130.7,215.4 L131.3,215.4 L131.8,215.0 L132.4,215.6 L132.9,215.0 L133.5,213.7 L134.1,213.7 L134.6,213.5 L135.2,212.2 L135.7,211.9 L136.3,210.9 L136.8,211.1 L137.4,209.1 L137.9,207.1 L138.5,205.5 L139.0,203.9 L139.6,204.2 L140.1,201.6 L140.7,199.8 L141.2,197.4 L141.8,193.0 L142.3,191.8 L142.9,189.1 L143.4,189.2 L144.0,185.9 L144.5,185.9 L145.1,186.0 L145.6,183.7 L146.2,183.3 L146.7,187.0 L147.3,186.2 L147.8,187.3 L148.4,190.2 L148.9,191.4 L149.5,193.7 L150.0,195.4 L150.6,197.3 L151.1,198.6 L151.7,200.6 L152.2,203.7 L152.8,205.7 L153.3,206.6 L153.9,207.4 L154.4,209.7 L155.0,211.0 L155.5,212.1 L156.1,211.9 L156.6,212.9 L157.2,214.1 L157.7,214.7 L158.3,215.0 L158.8,215.4 L159.4,214.7 L159.9,215.5 L160.5,215.7 L161.0,215.5 L161.6,216.3 L162.1,216.4 L162.7,216.0 L163.2,216.5 L163.8,215.2 L164.3,217.2 L164.9,217.2 L165.4,217.3 L166.0,216.7 L166.5,217.2 L167.1,216.8 L167.6,217.2 L168.2,216.9 L168.7,217.3 L169.3,216.8 L169.8,216.9 L170.4,216.9 L170.9,216.7 L171.5,215.8 L172.0,217.2 L172.6,217.2 L173.1,216.9 L173.7,217.0 L174.2,216.9 L174.8,216.9 L175.3,217.2 L175.9,217.2 L176.4,217.0 L177.0,215.6 L177.5,215.6 L178.1,216.8 L178.6,217.3 L179.2,217.1 L179.7,217.2 L180.3,217.1 L180.8,216.0 L181.4,217.3 L181.9,217.0 L182.5,217.3 L183.0,216.6 L183.6,216.2 L184.1,216.1 L184.7,216.8 L185.2,217.0 L185.8,216.7 L186.3,217.2 L186.9,216.8 L187.4,216.7 L188.0,216.9 L188.5,216.7 L189.1,216.7" fill="none" stroke="#111" stroke-width="1.15" stroke-linejoin="round"/>
<line x1="141.5" y1="179.1" x2="141.5" y2="217.6" stroke="#111" stroke-width="1.3"/>
<text x="169.2" y="185.0" font-size="9.6" text-anchor="middle" stroke="#111" stroke-width="0.4" fill="#111" >MFI 96</text>
<text x="77.5" y="198.3" font-size="11.5" text-anchor="end" font-weight="700" stroke="#111" stroke-width="0.3" fill="#111" >TNF-<tspan font-family='"Liberation Serif", serif' font-weight="400" font-size="108%">α</tspan></text>
<rect x="104.4" y="240.9" width="85.29999999999998" height="44.0" fill="#fff" stroke="#222" stroke-width="0.9"/>
<line x1="103.9" y1="242.4" x2="103.9" y2="284.9" stroke="#222" stroke-width="1.5"/>
<line x1="101.10000000000001" y1="284.9" x2="104.4" y2="284.9" stroke="#222" stroke-width="0.8"/>
<line x1="102.10000000000001" y1="283.2" x2="104.4" y2="283.2" stroke="#222" stroke-width="0.8"/>
<line x1="102.10000000000001" y1="281.5" x2="104.4" y2="281.5" stroke="#222" stroke-width="0.8"/>
<line x1="102.10000000000001" y1="279.8" x2="104.4" y2="279.8" stroke="#222" stroke-width="0.8"/>
<line x1="102.10000000000001" y1="278.1" x2="104.4" y2="278.1" stroke="#222" stroke-width="0.8"/>
<line x1="101.10000000000001" y1="276.5" x2="104.4" y2="276.5" stroke="#222" stroke-width="0.8"/>
<line x1="102.10000000000001" y1="274.8" x2="104.4" y2="274.8" stroke="#222" stroke-width="0.8"/>
<line x1="102.10000000000001" y1="273.1" x2="104.4" y2="273.1" stroke="#222" stroke-width="0.8"/>
<line x1="102.10000000000001" y1="271.4" x2="104.4" y2="271.4" stroke="#222" stroke-width="0.8"/>
<line x1="102.10000000000001" y1="269.7" x2="104.4" y2="269.7" stroke="#222" stroke-width="0.8"/>
<line x1="101.10000000000001" y1="268.0" x2="104.4" y2="268.0" stroke="#222" stroke-width="0.8"/>
<line x1="102.10000000000001" y1="266.3" x2="104.4" y2="266.3" stroke="#222" stroke-width="0.8"/>
<line x1="102.10000000000001" y1="264.6" x2="104.4" y2="264.6" stroke="#222" stroke-width="0.8"/>
<line x1="102.10000000000001" y1="263.0" x2="104.4" y2="263.0" stroke="#222" stroke-width="0.8"/>
<line x1="102.10000000000001" y1="261.3" x2="104.4" y2="261.3" stroke="#222" stroke-width="0.8"/>
<line x1="101.10000000000001" y1="259.6" x2="104.4" y2="259.6" stroke="#222" stroke-width="0.8"/>
<line x1="102.10000000000001" y1="257.9" x2="104.4" y2="257.9" stroke="#222" stroke-width="0.8"/>
<line x1="102.10000000000001" y1="256.2" x2="104.4" y2="256.2" stroke="#222" stroke-width="0.8"/>
<line x1="102.10000000000001" y1="254.5" x2="104.4" y2="254.5" stroke="#222" stroke-width="0.8"/>
<line x1="102.10000000000001" y1="252.8" x2="104.4" y2="252.8" stroke="#222" stroke-width="0.8"/>
<line x1="101.10000000000001" y1="251.1" x2="104.4" y2="251.1" stroke="#222" stroke-width="0.8"/>
<line x1="102.10000000000001" y1="249.5" x2="104.4" y2="249.5" stroke="#222" stroke-width="0.8"/>
<line x1="102.10000000000001" y1="247.8" x2="104.4" y2="247.8" stroke="#222" stroke-width="0.8"/>
<line x1="102.10000000000001" y1="246.1" x2="104.4" y2="246.1" stroke="#222" stroke-width="0.8"/>
<line x1="102.10000000000001" y1="244.4" x2="104.4" y2="244.4" stroke="#222" stroke-width="0.8"/>
<line x1="101.10000000000001" y1="242.7" x2="104.4" y2="242.7" stroke="#222" stroke-width="0.8"/>
<line x1="104.4" y1="285.09999999999997" x2="189.7" y2="285.09999999999997" stroke="#222" stroke-width="1.0"/>
<line x1="104.7" y1="283.7" x2="104.7" y2="288.5" stroke="#222" stroke-width="1.0"/>
<line x1="111.1" y1="284.09999999999997" x2="111.1" y2="286.7" stroke="#222" stroke-width="0.6"/>
<line x1="114.8" y1="284.09999999999997" x2="114.8" y2="286.7" stroke="#222" stroke-width="0.6"/>
<line x1="117.4" y1="284.09999999999997" x2="117.4" y2="286.7" stroke="#222" stroke-width="0.6"/>
<line x1="119.5" y1="284.09999999999997" x2="119.5" y2="286.7" stroke="#222" stroke-width="0.6"/>
<line x1="121.1" y1="284.09999999999997" x2="121.1" y2="286.7" stroke="#222" stroke-width="0.6"/>
<line x1="122.5" y1="284.09999999999997" x2="122.5" y2="286.7" stroke="#222" stroke-width="0.6"/>
<line x1="123.8" y1="284.09999999999997" x2="123.8" y2="286.7" stroke="#222" stroke-width="0.6"/>
<line x1="124.9" y1="284.09999999999997" x2="124.9" y2="286.7" stroke="#222" stroke-width="0.6"/>
<line x1="125.8" y1="283.7" x2="125.8" y2="288.5" stroke="#222" stroke-width="1.0"/>
<line x1="132.2" y1="284.09999999999997" x2="132.2" y2="286.7" stroke="#222" stroke-width="0.6"/>
<line x1="135.9" y1="284.09999999999997" x2="135.9" y2="286.7" stroke="#222" stroke-width="0.6"/>
<line x1="138.5" y1="284.09999999999997" x2="138.5" y2="286.7" stroke="#222" stroke-width="0.6"/>
<line x1="140.6" y1="284.09999999999997" x2="140.6" y2="286.7" stroke="#222" stroke-width="0.6"/>
<line x1="142.3" y1="284.09999999999997" x2="142.3" y2="286.7" stroke="#222" stroke-width="0.6"/>
<line x1="143.7" y1="284.09999999999997" x2="143.7" y2="286.7" stroke="#222" stroke-width="0.6"/>
<line x1="144.9" y1="284.09999999999997" x2="144.9" y2="286.7" stroke="#222" stroke-width="0.6"/>
<line x1="146.0" y1="284.09999999999997" x2="146.0" y2="286.7" stroke="#222" stroke-width="0.6"/>
<line x1="146.9" y1="283.7" x2="146.9" y2="288.5" stroke="#222" stroke-width="1.0"/>
<line x1="153.3" y1="284.09999999999997" x2="153.3" y2="286.7" stroke="#222" stroke-width="0.6"/>
<line x1="157.0" y1="284.09999999999997" x2="157.0" y2="286.7" stroke="#222" stroke-width="0.6"/>
<line x1="159.7" y1="284.09999999999997" x2="159.7" y2="286.7" stroke="#222" stroke-width="0.6"/>
<line x1="161.7" y1="284.09999999999997" x2="161.7" y2="286.7" stroke="#222" stroke-width="0.6"/>
<line x1="163.4" y1="284.09999999999997" x2="163.4" y2="286.7" stroke="#222" stroke-width="0.6"/>
<line x1="164.8" y1="284.09999999999997" x2="164.8" y2="286.7" stroke="#222" stroke-width="0.6"/>
<line x1="166.0" y1="284.09999999999997" x2="166.0" y2="286.7" stroke="#222" stroke-width="0.6"/>
<line x1="167.1" y1="284.09999999999997" x2="167.1" y2="286.7" stroke="#222" stroke-width="0.6"/>
<line x1="168.1" y1="283.7" x2="168.1" y2="288.5" stroke="#222" stroke-width="1.0"/>
<line x1="174.4" y1="284.09999999999997" x2="174.4" y2="286.7" stroke="#222" stroke-width="0.6"/>
<line x1="178.1" y1="284.09999999999997" x2="178.1" y2="286.7" stroke="#222" stroke-width="0.6"/>
<line x1="180.8" y1="284.09999999999997" x2="180.8" y2="286.7" stroke="#222" stroke-width="0.6"/>
<line x1="182.8" y1="284.09999999999997" x2="182.8" y2="286.7" stroke="#222" stroke-width="0.6"/>
<line x1="184.5" y1="284.09999999999997" x2="184.5" y2="286.7" stroke="#222" stroke-width="0.6"/>
<line x1="185.9" y1="284.09999999999997" x2="185.9" y2="286.7" stroke="#222" stroke-width="0.6"/>
<line x1="187.1" y1="284.09999999999997" x2="187.1" y2="286.7" stroke="#222" stroke-width="0.6"/>
<line x1="188.2" y1="284.09999999999997" x2="188.2" y2="286.7" stroke="#222" stroke-width="0.6"/>
<line x1="188.9" y1="283.7" x2="188.9" y2="288.5" stroke="#222" stroke-width="1.0"/>
<text transform="translate(106.8,298.2) scale(0.77,1)" font-size="9.3" font-weight="700" text-anchor="end" fill="#111">10</text>
<text transform="translate(106.8,293.7) scale(0.78,1)" font-size="9.1" font-weight="700" text-anchor="start" fill="#111">0</text>
<text transform="translate(127.9,298.2) scale(0.77,1)" font-size="9.3" font-weight="700" text-anchor="end" fill="#111">10</text>
<text transform="translate(127.9,293.7) scale(0.78,1)" font-size="9.1" font-weight="700" text-anchor="start" fill="#111">1</text>
<text transform="translate(149.0,298.2) scale(0.77,1)" font-size="9.3" font-weight="700" text-anchor="end" fill="#111">10</text>
<text transform="translate(149.0,293.7) scale(0.78,1)" font-size="9.1" font-weight="700" text-anchor="start" fill="#111">2</text>
<text transform="translate(170.2,298.2) scale(0.77,1)" font-size="9.3" font-weight="700" text-anchor="end" fill="#111">10</text>
<text transform="translate(170.2,293.7) scale(0.78,1)" font-size="9.1" font-weight="700" text-anchor="start" fill="#111">3</text>
<text transform="translate(191.3,298.2) scale(0.77,1)" font-size="9.3" font-weight="700" text-anchor="end" fill="#111">10</text>
<text transform="translate(191.3,293.7) scale(0.78,1)" font-size="9.1" font-weight="700" text-anchor="start" fill="#111">4</text>
<text transform="translate(98.80000000000001,241.70000000000002) rotate(-90) scale(0.8,1)" font-size="8.6" text-anchor="middle" fill="#111" stroke="#111" stroke-width="0.35">50</text>
<text transform="translate(98.2,284.59999999999997) rotate(-90) scale(0.8,1)" font-size="8" text-anchor="middle" fill="#111" stroke="#111" stroke-width="0.35">0</text>
<path d="M105.9,284.2 L106.4,282.5 L106.9,280.6 L107.4,279.5 L107.9,277.5 L108.4,275.4 L108.9,273.4 L109.4,269.3 L109.9,266.7 L110.4,262.6 L110.9,260.3 L111.4,256.8 L111.9,253.5 L112.4,252.3 L112.9,249.7 L113.4,247.1 L113.9,246.5 L114.4,246.1 L114.9,244.9 L115.4,245.5 L115.9,244.9 L116.4,246.3 L116.9,247.4 L117.4,251.0 L117.9,252.1 L118.4,255.5 L118.9,257.2 L119.4,259.5 L119.9,262.4 L120.4,264.3 L120.9,266.8 L121.4,268.3 L121.9,269.5 L122.4,271.9 L122.9,272.5 L123.4,274.4 L123.9,275.4 L124.4,275.7 L124.9,276.8 L125.4,276.8 L125.9,277.8 L126.4,278.6 L126.9,278.5 L127.4,278.8 L127.9,279.1 L128.4,278.8 L128.9,279.4 L129.4,279.0 L129.9,279.5 L130.4,279.4 L130.9,279.6 L131.4,280.4 L131.9,280.7 L132.4,281.4 L132.9,282.0 L133.4,282.5 L133.9,282.6 L134.4,282.5 L134.9,282.8 L135.4,282.9 L135.9,282.8 L136.4,283.0 L136.9,283.3 L137.4,283.6 L137.9,283.5 L138.4,283.7" fill="none" stroke="#222" stroke-width="1" stroke-dasharray="1.5 1.4"/>
<path d="M104.9,283.5 L105.5,284.3 L106.0,284.5 L106.5,284.5 L107.1,284.1 L107.6,284.3 L108.2,284.1 L108.7,284.1 L109.3,284.5 L109.8,284.0 L110.4,284.6 L110.9,284.4 L111.5,284.0 L112.0,284.3 L112.6,284.0 L113.1,284.5 L113.7,284.0 L114.2,284.0 L114.8,284.0 L115.3,284.2 L115.9,284.6 L116.4,284.2 L117.0,284.4 L117.5,284.0 L118.1,284.3 L118.6,284.0 L119.2,284.3 L119.7,284.3 L120.3,283.4 L120.8,284.0 L121.4,284.3 L121.9,284.0 L122.5,284.0 L123.0,284.2 L123.6,284.1 L124.1,283.9 L124.7,283.6 L125.2,283.2 L125.8,283.4 L126.3,283.1 L126.9,283.4 L127.4,283.3 L128.0,282.9 L128.5,283.1 L129.1,282.6 L129.6,282.7 L130.2,282.6 L130.7,282.7 L131.3,282.6 L131.8,282.7 L132.4,283.2 L132.9,281.8 L133.5,282.1 L134.1,281.8 L134.6,281.2 L135.2,279.7 L135.7,279.9 L136.3,279.7 L136.8,278.8 L137.4,277.0 L137.9,274.1 L138.5,272.4 L139.0,270.4 L139.6,266.4 L140.1,264.0 L140.7,258.5 L141.2,256.7 L141.8,253.3 L142.3,251.4 L142.9,250.8 L143.4,253.3 L144.0,250.2 L144.5,251.3 L145.1,252.4 L145.6,255.8 L146.2,255.2 L146.7,255.1 L147.3,255.4 L147.8,253.8 L148.4,254.9 L148.9,256.6 L149.5,257.7 L150.0,259.9 L150.6,262.4 L151.1,264.5 L151.7,266.4 L152.2,267.0 L152.8,270.4 L153.3,272.3 L153.9,273.8 L154.4,275.9 L155.0,277.0 L155.5,278.4 L156.1,279.2 L156.6,280.2 L157.2,280.8 L157.7,280.5 L158.3,281.6 L158.8,281.8 L159.4,282.6 L159.9,282.5 L160.5,283.2 L161.0,283.2 L161.6,283.5 L162.1,281.7 L162.7,282.5 L163.2,283.5 L163.8,283.3 L164.3,284.1 L164.9,283.8 L165.4,284.1 L166.0,284.1 L166.5,284.3 L167.1,284.4 L167.6,284.1 L168.2,284.1 L168.7,284.4 L169.3,284.5 L169.8,284.5 L170.4,282.6 L170.9,284.0 L171.5,284.3 L172.0,284.6 L172.6,284.1 L173.1,284.6 L173.7,284.3 L174.2,284.4 L174.8,284.4 L175.3,284.2 L175.9,284.3 L176.4,284.6 L177.0,284.5 L177.5,284.6 L178.1,284.3 L178.6,284.4 L179.2,284.2 L179.7,284.2 L180.3,284.4 L180.8,284.2 L181.4,284.2 L181.9,282.8 L182.5,284.1 L183.0,284.0 L183.6,284.3 L184.1,284.2 L184.7,284.1 L185.2,283.5 L185.8,284.2 L186.3,284.6 L186.9,284.6 L187.4,284.5 L188.0,284.3 L188.5,284.5 L189.1,284.3" fill="none" stroke="#111" stroke-width="1.15" stroke-linejoin="round"/>
<line x1="141.5" y1="246.4" x2="141.5" y2="284.9" stroke="#111" stroke-width="1.3"/>
<text x="169.2" y="252.3" font-size="9.6" text-anchor="middle" stroke="#111" stroke-width="0.4" fill="#111" >MFI 101</text>
<text x="77.5" y="265.7" font-size="11.5" text-anchor="end" font-weight="700" stroke="#111" stroke-width="0.3" fill="#111" >IFN-<tspan font-family='"Liberation Serif", serif' font-weight="400" font-size="108%">γ</tspan></text>
<rect x="104.4" y="308.2" width="85.29999999999998" height="44.0" fill="#fff" stroke="#222" stroke-width="0.9"/>
<line x1="103.9" y1="309.7" x2="103.9" y2="352.2" stroke="#222" stroke-width="1.5"/>
<line x1="101.10000000000001" y1="352.2" x2="104.4" y2="352.2" stroke="#222" stroke-width="0.8"/>
<line x1="102.10000000000001" y1="350.5" x2="104.4" y2="350.5" stroke="#222" stroke-width="0.8"/>
<line x1="102.10000000000001" y1="348.8" x2="104.4" y2="348.8" stroke="#222" stroke-width="0.8"/>
<line x1="102.10000000000001" y1="347.1" x2="104.4" y2="347.1" stroke="#222" stroke-width="0.8"/>
<line x1="102.10000000000001" y1="345.4" x2="104.4" y2="345.4" stroke="#222" stroke-width="0.8"/>
<line x1="101.10000000000001" y1="343.8" x2="104.4" y2="343.8" stroke="#222" stroke-width="0.8"/>
<line x1="102.10000000000001" y1="342.1" x2="104.4" y2="342.1" stroke="#222" stroke-width="0.8"/>
<line x1="102.10000000000001" y1="340.4" x2="104.4" y2="340.4" stroke="#222" stroke-width="0.8"/>
<line x1="102.10000000000001" y1="338.7" x2="104.4" y2="338.7" stroke="#222" stroke-width="0.8"/>
<line x1="102.10000000000001" y1="337.0" x2="104.4" y2="337.0" stroke="#222" stroke-width="0.8"/>
<line x1="101.10000000000001" y1="335.3" x2="104.4" y2="335.3" stroke="#222" stroke-width="0.8"/>
<line x1="102.10000000000001" y1="333.6" x2="104.4" y2="333.6" stroke="#222" stroke-width="0.8"/>
<line x1="102.10000000000001" y1="331.9" x2="104.4" y2="331.9" stroke="#222" stroke-width="0.8"/>
<line x1="102.10000000000001" y1="330.3" x2="104.4" y2="330.3" stroke="#222" stroke-width="0.8"/>
<line x1="102.10000000000001" y1="328.6" x2="104.4" y2="328.6" stroke="#222" stroke-width="0.8"/>
<line x1="101.10000000000001" y1="326.9" x2="104.4" y2="326.9" stroke="#222" stroke-width="0.8"/>
<line x1="102.10000000000001" y1="325.2" x2="104.4" y2="325.2" stroke="#222" stroke-width="0.8"/>
<line x1="102.10000000000001" y1="323.5" x2="104.4" y2="323.5" stroke="#222" stroke-width="0.8"/>
<line x1="102.10000000000001" y1="321.8" x2="104.4" y2="321.8" stroke="#222" stroke-width="0.8"/>
<line x1="102.10000000000001" y1="320.1" x2="104.4" y2="320.1" stroke="#222" stroke-width="0.8"/>
<line x1="101.10000000000001" y1="318.4" x2="104.4" y2="318.4" stroke="#222" stroke-width="0.8"/>
<line x1="102.10000000000001" y1="316.8" x2="104.4" y2="316.8" stroke="#222" stroke-width="0.8"/>
<line x1="102.10000000000001" y1="315.1" x2="104.4" y2="315.1" stroke="#222" stroke-width="0.8"/>
<line x1="102.10000000000001" y1="313.4" x2="104.4" y2="313.4" stroke="#222" stroke-width="0.8"/>
<line x1="102.10000000000001" y1="311.7" x2="104.4" y2="311.7" stroke="#222" stroke-width="0.8"/>
<line x1="101.10000000000001" y1="310.0" x2="104.4" y2="310.0" stroke="#222" stroke-width="0.8"/>
<line x1="104.4" y1="352.4" x2="189.7" y2="352.4" stroke="#222" stroke-width="1.0"/>
<line x1="104.7" y1="351.0" x2="104.7" y2="355.8" stroke="#222" stroke-width="1.0"/>
<line x1="111.1" y1="351.4" x2="111.1" y2="354.0" stroke="#222" stroke-width="0.6"/>
<line x1="114.8" y1="351.4" x2="114.8" y2="354.0" stroke="#222" stroke-width="0.6"/>
<line x1="117.4" y1="351.4" x2="117.4" y2="354.0" stroke="#222" stroke-width="0.6"/>
<line x1="119.5" y1="351.4" x2="119.5" y2="354.0" stroke="#222" stroke-width="0.6"/>
<line x1="121.1" y1="351.4" x2="121.1" y2="354.0" stroke="#222" stroke-width="0.6"/>
<line x1="122.5" y1="351.4" x2="122.5" y2="354.0" stroke="#222" stroke-width="0.6"/>
<line x1="123.8" y1="351.4" x2="123.8" y2="354.0" stroke="#222" stroke-width="0.6"/>
<line x1="124.9" y1="351.4" x2="124.9" y2="354.0" stroke="#222" stroke-width="0.6"/>
<line x1="125.8" y1="351.0" x2="125.8" y2="355.8" stroke="#222" stroke-width="1.0"/>
<line x1="132.2" y1="351.4" x2="132.2" y2="354.0" stroke="#222" stroke-width="0.6"/>
<line x1="135.9" y1="351.4" x2="135.9" y2="354.0" stroke="#222" stroke-width="0.6"/>
<line x1="138.5" y1="351.4" x2="138.5" y2="354.0" stroke="#222" stroke-width="0.6"/>
<line x1="140.6" y1="351.4" x2="140.6" y2="354.0" stroke="#222" stroke-width="0.6"/>
<line x1="142.3" y1="351.4" x2="142.3" y2="354.0" stroke="#222" stroke-width="0.6"/>
<line x1="143.7" y1="351.4" x2="143.7" y2="354.0" stroke="#222" stroke-width="0.6"/>
<line x1="144.9" y1="351.4" x2="144.9" y2="354.0" stroke="#222" stroke-width="0.6"/>
<line x1="146.0" y1="351.4" x2="146.0" y2="354.0" stroke="#222" stroke-width="0.6"/>
<line x1="146.9" y1="351.0" x2="146.9" y2="355.8" stroke="#222" stroke-width="1.0"/>
<line x1="153.3" y1="351.4" x2="153.3" y2="354.0" stroke="#222" stroke-width="0.6"/>
<line x1="157.0" y1="351.4" x2="157.0" y2="354.0" stroke="#222" stroke-width="0.6"/>
<line x1="159.7" y1="351.4" x2="159.7" y2="354.0" stroke="#222" stroke-width="0.6"/>
<line x1="161.7" y1="351.4" x2="161.7" y2="354.0" stroke="#222" stroke-width="0.6"/>
<line x1="163.4" y1="351.4" x2="163.4" y2="354.0" stroke="#222" stroke-width="0.6"/>
<line x1="164.8" y1="351.4" x2="164.8" y2="354.0" stroke="#222" stroke-width="0.6"/>
<line x1="166.0" y1="351.4" x2="166.0" y2="354.0" stroke="#222" stroke-width="0.6"/>
<line x1="167.1" y1="351.4" x2="167.1" y2="354.0" stroke="#222" stroke-width="0.6"/>
<line x1="168.1" y1="351.0" x2="168.1" y2="355.8" stroke="#222" stroke-width="1.0"/>
<line x1="174.4" y1="351.4" x2="174.4" y2="354.0" stroke="#222" stroke-width="0.6"/>
<line x1="178.1" y1="351.4" x2="178.1" y2="354.0" stroke="#222" stroke-width="0.6"/>
<line x1="180.8" y1="351.4" x2="180.8" y2="354.0" stroke="#222" stroke-width="0.6"/>
<line x1="182.8" y1="351.4" x2="182.8" y2="354.0" stroke="#222" stroke-width="0.6"/>
<line x1="184.5" y1="351.4" x2="184.5" y2="354.0" stroke="#222" stroke-width="0.6"/>
<line x1="185.9" y1="351.4" x2="185.9" y2="354.0" stroke="#222" stroke-width="0.6"/>
<line x1="187.1" y1="351.4" x2="187.1" y2="354.0" stroke="#222" stroke-width="0.6"/>
<line x1="188.2" y1="351.4" x2="188.2" y2="354.0" stroke="#222" stroke-width="0.6"/>
<line x1="188.9" y1="351.0" x2="188.9" y2="355.8" stroke="#222" stroke-width="1.0"/>
<text transform="translate(106.8,365.5) scale(0.77,1)" font-size="9.3" font-weight="700" text-anchor="end" fill="#111">10</text>
<text transform="translate(106.8,361.0) scale(0.78,1)" font-size="9.1" font-weight="700" text-anchor="start" fill="#111">0</text>
<text transform="translate(127.9,365.5) scale(0.77,1)" font-size="9.3" font-weight="700" text-anchor="end" fill="#111">10</text>
<text transform="translate(127.9,361.0) scale(0.78,1)" font-size="9.1" font-weight="700" text-anchor="start" fill="#111">1</text>
<text transform="translate(149.0,365.5) scale(0.77,1)" font-size="9.3" font-weight="700" text-anchor="end" fill="#111">10</text>
<text transform="translate(149.0,361.0) scale(0.78,1)" font-size="9.1" font-weight="700" text-anchor="start" fill="#111">2</text>
<text transform="translate(170.2,365.5) scale(0.77,1)" font-size="9.3" font-weight="700" text-anchor="end" fill="#111">10</text>
<text transform="translate(170.2,361.0) scale(0.78,1)" font-size="9.1" font-weight="700" text-anchor="start" fill="#111">3</text>
<text transform="translate(191.3,365.5) scale(0.77,1)" font-size="9.3" font-weight="700" text-anchor="end" fill="#111">10</text>
<text transform="translate(191.3,361.0) scale(0.78,1)" font-size="9.1" font-weight="700" text-anchor="start" fill="#111">4</text>
<text transform="translate(98.80000000000001,309.0) rotate(-90) scale(0.8,1)" font-size="8.6" text-anchor="middle" fill="#111" stroke="#111" stroke-width="0.35">50</text>
<text transform="translate(98.2,351.9) rotate(-90) scale(0.8,1)" font-size="8" text-anchor="middle" fill="#111" stroke="#111" stroke-width="0.35">0</text>
<path d="M105.9,351.5 L106.4,350.1 L106.9,348.6 L107.4,347.3 L107.9,345.9 L108.4,344.3 L108.9,343.0 L109.4,341.2 L109.9,339.4 L110.4,337.6 L110.9,335.2 L111.4,333.9 L111.9,331.5 L112.4,329.1 L112.9,327.6 L113.4,326.2 L113.9,325.4 L114.4,323.5 L114.9,321.9 L115.4,320.6 L115.9,320.2 L116.4,318.8 L116.9,319.0 L117.4,321.6 L117.9,321.7 L118.4,322.8 L118.9,325.2 L119.4,326.7 L119.9,327.6 L120.4,330.8 L120.9,331.6 L121.4,333.7 L121.9,334.3 L122.4,335.7 L122.9,337.8 L123.4,339.8 L123.9,340.3 L124.4,341.3 L124.9,342.1 L125.4,343.2 L125.9,344.1 L126.4,344.9 L126.9,345.6 L127.4,346.2 L127.9,346.2 L128.4,347.2 L128.9,347.3 L129.4,347.9 L129.9,348.1 L130.4,348.9 L130.9,348.5 L131.4,349.2 L131.9,349.6 L132.4,349.6 L132.9,349.7 L133.4,350.2 L133.9,350.1 L134.4,350.2 L134.9,350.3 L135.4,350.5 L135.9,350.6 L136.4,350.6 L136.9,350.7 L137.4,350.6 L137.9,351.1 L138.4,351.0 L138.9,351.0 L139.4,351.3 L139.9,351.2 L140.4,351.2 L140.9,351.4 L141.4,351.4" fill="none" stroke="#222" stroke-width="1" stroke-dasharray="1.5 1.4"/>
<path d="M104.9,351.8 L105.5,351.9 L106.0,351.3 L106.5,351.8 L107.1,351.5 L107.6,351.7 L108.2,351.4 L108.7,351.7 L109.3,351.6 L109.8,351.6 L110.4,350.2 L110.9,351.6 L111.5,351.7 L112.0,351.8 L112.6,351.7 L113.1,351.4 L113.7,351.3 L114.2,351.4 L114.8,351.4 L115.3,351.2 L115.9,351.1 L116.4,350.6 L117.0,351.2 L117.5,351.3 L118.1,350.9 L118.6,351.0 L119.2,351.2 L119.7,351.1 L120.3,350.9 L120.8,350.8 L121.4,351.1 L121.9,351.0 L122.5,351.0 L123.0,350.6 L123.6,349.9 L124.1,350.4 L124.7,350.8 L125.2,348.8 L125.8,350.7 L126.3,350.3 L126.9,350.2 L127.4,348.2 L128.0,349.9 L128.5,350.4 L129.1,349.5 L129.6,349.3 L130.2,348.8 L130.7,349.3 L131.3,348.4 L131.8,348.7 L132.4,348.6 L132.9,347.6 L133.5,348.4 L134.1,347.1 L134.6,346.8 L135.2,346.8 L135.7,345.6 L136.3,346.0 L136.8,345.4 L137.4,344.9 L137.9,343.9 L138.5,343.9 L139.0,342.6 L139.6,341.7 L140.1,340.5 L140.7,339.0 L141.2,338.9 L141.8,336.5 L142.3,336.2 L142.9,334.6 L143.4,334.0 L144.0,332.1 L144.5,329.9 L145.1,330.0 L145.6,328.7 L146.2,329.2 L146.7,328.4 L147.3,327.9 L147.8,326.5 L148.4,325.8 L148.9,324.7 L149.5,326.8 L150.0,324.3 L150.6,323.5 L151.1,324.4 L151.7,325.9 L152.2,324.8 L152.8,325.6 L153.3,324.8 L153.9,322.0 L154.4,322.9 L155.0,323.4 L155.5,323.9 L156.1,324.6 L156.6,327.2 L157.2,328.9 L157.7,330.5 L158.3,331.9 L158.8,333.7 L159.4,335.0 L159.9,337.6 L160.5,338.0 L161.0,339.8 L161.6,339.9 L162.1,341.9 L162.7,342.5 L163.2,343.4 L163.8,342.9 L164.3,343.3 L164.9,344.2 L165.4,345.1 L166.0,344.8 L166.5,345.4 L167.1,345.2 L167.6,345.0 L168.2,345.0 L168.7,345.5 L169.3,346.3 L169.8,346.8 L170.4,347.1 L170.9,347.3 L171.5,349.0 L172.0,349.0 L172.6,350.2 L173.1,349.6 L173.7,350.6 L174.2,349.8 L174.8,350.9 L175.3,350.4 L175.9,349.9 L176.4,351.0 L177.0,349.6 L177.5,351.1 L178.1,351.2 L178.6,350.1 L179.2,351.7 L179.7,350.3 L180.3,351.8 L180.8,350.5 L181.4,351.8 L181.9,351.5 L182.5,351.4 L183.0,350.2 L183.6,350.7 L184.1,351.8 L184.7,351.6 L185.2,351.5 L185.8,352.0 L186.3,351.8 L186.9,351.7 L187.4,351.9 L188.0,352.0 L188.5,351.7 L189.1,351.7" fill="none" stroke="#111" stroke-width="1.15" stroke-linejoin="round"/>
<line x1="142.2" y1="313.7" x2="142.2" y2="352.2" stroke="#111" stroke-width="1.3"/>
<text x="169.2" y="319.59999999999997" font-size="9.6" text-anchor="middle" stroke="#111" stroke-width="0.4" fill="#111" >MFI 235</text>
<text x="77.5" y="327.2" font-size="11.4" text-anchor="end" font-weight="700" stroke="#111" stroke-width="0.3" fill="#111" >IL-1-<tspan font-family='"Liberation Serif", serif' font-weight="400" font-size="108%">β</tspan> <tspan font-weight="400" fill="#444">+</tspan> TNF-<tspan font-family='"Liberation Serif", serif' font-weight="400" font-size="108%">α</tspan></text>
<text x="77.5" y="340.3" font-size="11.4" text-anchor="end" font-weight="700" stroke="#111" stroke-width="0.3" fill="#111" ><tspan font-weight="400" fill="#444">+</tspan> IFN-<tspan font-family='"Liberation Serif", serif' font-weight="400" font-size="108%">γ</tspan></text>
<line x1="102.7" y1="369.6" x2="183" y2="369.6" stroke="#111" stroke-width="1.7"/>
<polygon points="181.4,365.8 190,369.6 181.4,373.4" fill="#111"/>
<text x="148.2" y="384.8" font-size="13" text-anchor="middle" font-weight="700" stroke="#111" stroke-width="0.3" fill="#111" >Fas</text>
<text x="-2.0" y="420.6" font-size="25.8" text-anchor="start" font-weight="700" stroke="#111" stroke-width="0.3" fill="#111" >B</text>
<rect x="61.8" y="438.7" width="133.0" height="26.4" fill="#0a0a0a"/>
<rect x="61.8" y="473.5" width="133.0" height="23" fill="#0a0a0a"/>
<text x="52.2" y="454.7" font-size="12.2" text-anchor="end" font-weight="700" stroke="#111" stroke-width="0.3" fill="#111" >Fas</text>
<text x="52.2" y="491.1" font-size="12.2" text-anchor="end" font-weight="700" stroke="#111" stroke-width="0.3" fill="#111" ><tspan font-family='"Liberation Serif", serif' font-weight="400" font-size="108%">β</tspan>-actin</text>
<text x="72.2" y="426.4" font-size="8.3" text-anchor="middle" font-weight="700" stroke="#111" stroke-width="0.3" fill="#111" >MW</text>
<line x1="73.7" y1="431.2" x2="73.7" y2="438.6" stroke="#222" stroke-width="1"/>
<text x="100.65" y="413.2" font-size="8" text-anchor="middle" stroke="#111" stroke-width="0.35" fill="#111" >CET 1</text>
<line x1="89.85000000000001" y1="416.8" x2="111.25" y2="416.8" stroke="#111" stroke-width="1.5"/>
<text x="136.7" y="413.2" font-size="8" text-anchor="middle" stroke="#111" stroke-width="0.35" fill="#111" >CET 2</text>
<line x1="125.89999999999999" y1="416.8" x2="147.29999999999998" y2="416.8" stroke="#111" stroke-width="1.5"/>
<text x="174.05" y="413.2" font-size="8" text-anchor="middle" stroke="#111" stroke-width="0.35" fill="#111" >CET 3</text>
<line x1="163.25" y1="416.8" x2="184.65" y2="416.8" stroke="#111" stroke-width="1.5"/>
<text x="91.9" y="427.2" font-size="10" text-anchor="middle" font-weight="700" stroke="#111" stroke-width="0.2" fill="#111" >-</text>
<line x1="92" y1="431.2" x2="92" y2="438.6" stroke="#222" stroke-width="1"/>
<text x="109.3" y="427.7" font-size="9.2" text-anchor="middle" stroke="#111" stroke-width="0" fill="#555" >+</text>
<line x1="109.3" y1="431.2" x2="109.3" y2="438.6" stroke="#222" stroke-width="1"/>
<text x="127.60000000000001" y="427.2" font-size="10" text-anchor="middle" font-weight="700" stroke="#111" stroke-width="0.2" fill="#111" >-</text>
<line x1="127.7" y1="431.2" x2="127.7" y2="438.6" stroke="#222" stroke-width="1"/>
<text x="145.7" y="427.7" font-size="9.2" text-anchor="middle" stroke="#111" stroke-width="0" fill="#555" >+</text>
<line x1="145.7" y1="431.2" x2="145.7" y2="438.6" stroke="#222" stroke-width="1"/>
<text x="164.8" y="427.2" font-size="10" text-anchor="middle" font-weight="700" stroke="#111" stroke-width="0.2" fill="#111" >-</text>
<line x1="164.9" y1="431.2" x2="164.9" y2="438.6" stroke="#222" stroke-width="1"/>
<text x="183.2" y="427.7" font-size="9.2" text-anchor="middle" stroke="#111" stroke-width="0" fill="#555" >+</text>
<line x1="183.2" y1="431.2" x2="183.2" y2="438.6" stroke="#222" stroke-width="1"/>
<defs><filter id="bl" x="-20%" y="-100%" width="140%" height="300%"><feGaussianBlur stdDeviation="0.6"/></filter></defs>
<rect x="67.0" y="439.5" width="15.5" height="3.0" rx="1" fill="#fff" opacity="1" filter="url(#bl)" transform="rotate(0 74.8 441.0)"/>
<rect x="67.0" y="445.7" width="15.5" height="4.2" rx="1" fill="#fff" opacity="1" filter="url(#bl)" transform="rotate(0 74.8 447.8)"/>
<rect x="67.0" y="456.1" width="15.5" height="3.0" rx="1" fill="#fff" opacity="1" filter="url(#bl)" transform="rotate(0 74.8 457.6)"/>
<rect x="67.0" y="459.8" width="15.5" height="3.0" rx="1" fill="#fff" opacity="1" filter="url(#bl)" transform="rotate(0 74.8 461.3)"/>
<rect x="87.0" y="448.9" width="12.700000000000003" height="1.3" rx="1" fill="#fff" opacity="0.3" filter="url(#bl)" transform="rotate(0 93.3 449.5)"/>
<rect x="103.8" y="447.9" width="14.100000000000009" height="1.6" rx="1" fill="#fff" opacity="0.75" filter="url(#bl)" transform="rotate(0 110.8 448.7)"/>
<rect x="140.3" y="447.8" width="14.5" height="2.3" rx="1" fill="#fff" opacity="1" filter="url(#bl)" transform="rotate(0 147.6 448.9)"/>
<rect x="158.5" y="448.6" width="12.699999999999989" height="1.5" rx="1" fill="#fff" opacity="0.55" filter="url(#bl)" transform="rotate(0 164.8 449.3)"/>
<rect x="176.9" y="449.1" width="14.099999999999994" height="2.5" rx="1" fill="#fff" opacity="1" filter="url(#bl)" transform="rotate(0 183.9 450.4)"/>
<rect x="67.2" y="479.6" width="15" height="2.4" rx="1" fill="#fff" opacity="0.9" filter="url(#bl)" transform="rotate(0 74.7 480.8)"/>
<rect x="67.2" y="483.6" width="15" height="2.8" rx="1" fill="#fff" opacity="0.9" filter="url(#bl)" transform="rotate(0 74.7 485.0)"/>
<rect x="86.3" y="486.7" width="14.700000000000003" height="2.4" rx="1" fill="#fff" opacity="0.95" filter="url(#bl)" transform="rotate(-3 93.7 487.9)"/>
<rect x="104.4" y="485.6" width="14.199999999999989" height="2.4" rx="1" fill="#fff" opacity="0.95" filter="url(#bl)" transform="rotate(-2 111.5 486.8)"/>
<rect x="121.9" y="484.2" width="14.5" height="2.4" rx="1" fill="#fff" opacity="0.95" filter="url(#bl)" transform="rotate(-2 129.2 485.4)"/>
<rect x="138.3" y="483.4" width="17.399999999999977" height="2.4" rx="1" fill="#fff" opacity="0.95" filter="url(#bl)" transform="rotate(-1 147.0 484.6)"/>
<rect x="156.2" y="482.6" width="15.0" height="2.4" rx="1" fill="#fff" opacity="0.95" filter="url(#bl)" transform="rotate(0 163.7 483.8)"/>
<rect x="174.6" y="483.1" width="13.900000000000006" height="2.4" rx="1" fill="#fff" opacity="0.95" filter="url(#bl)" transform="rotate(1 181.6 484.3)"/>
<line x1="194.8" y1="451.6" x2="204.5" y2="451.6" stroke="#111" stroke-width="1.1"/>
<line x1="194.8" y1="484.6" x2="204.5" y2="484.6" stroke="#111" stroke-width="1.1"/>
<text x="208.8" y="454.8" font-size="8.5" text-anchor="start" stroke="#111" stroke-width="0.3" fill="#111" >393 bp</text>
<text x="208.8" y="487.8" font-size="8.5" text-anchor="start" stroke="#111" stroke-width="0.3" fill="#111" >238 bp</text>
<text x="261" y="18.9" font-size="26" text-anchor="start" font-weight="700" stroke="#111" stroke-width="0.3" fill="#111" >C</text>
<rect x="300.8" y="12.5" width="112.80000000000001" height="169.5" fill="#fff" stroke="#111" stroke-width="1.3"/>
<line x1="297.8" y1="12.5" x2="300.8" y2="12.5" stroke="#111" stroke-width="1.1"/>
<text x="297.3" y="16.5" font-size="10.2" text-anchor="end" stroke="#111" stroke-width="0.22" fill="#111" >3</text>
<line x1="297.8" y1="89.5" x2="300.8" y2="89.5" stroke="#111" stroke-width="1.1"/>
<text x="297.3" y="93.5" font-size="10.2" text-anchor="end" stroke="#111" stroke-width="0.22" fill="#111" >2</text>
<line x1="297.8" y1="167.1" x2="300.8" y2="167.1" stroke="#111" stroke-width="1.1"/>
<text x="297.3" y="171.1" font-size="10.2" text-anchor="end" stroke="#111" stroke-width="0.22" fill="#111" >1</text>
<line x1="301.3" y1="182.0" x2="301.3" y2="185.4" stroke="#111" stroke-width="1.1"/>
<text x="301.3" y="195.6" font-size="10.6" text-anchor="middle" stroke="#111" stroke-width="0.22" fill="#111" >0</text>
<line x1="334.9" y1="182.0" x2="334.9" y2="185.4" stroke="#111" stroke-width="1.1"/>
<text x="334.9" y="195.6" font-size="10.6" text-anchor="middle" stroke="#111" stroke-width="0.22" fill="#111" >24</text>
<line x1="368.5" y1="182.0" x2="368.5" y2="185.4" stroke="#111" stroke-width="1.1"/>
<text x="368.5" y="195.6" font-size="10.6" text-anchor="middle" stroke="#111" stroke-width="0.22" fill="#111" >48</text>
<line x1="402.1" y1="182.0" x2="402.1" y2="185.4" stroke="#111" stroke-width="1.1"/>
<text x="402.1" y="195.6" font-size="10.6" text-anchor="middle" stroke="#111" stroke-width="0.22" fill="#111" >72</text>
<text x="358.7" y="212.2" font-size="10.35" text-anchor="middle" font-weight="700" stroke="#111" stroke-width="0.3" fill="#111" >Time (hours)</text>
<text transform="translate(275.5,99.7) rotate(-90)" font-size="10.45" font-weight="700" text-anchor="middle" fill="#111" stroke="#111" stroke-width="0.3">Fas MFI ratio</text>
<polyline points="301.3,167.1 334.9,167.1 368.5,167.1 402.1,167.1" fill="none" stroke="#111" stroke-width="1.25"/>
<line x1="334.9" y1="140.8" x2="334.9" y2="134.6" stroke="#111" stroke-width="1.1"/>
<line x1="332.29999999999995" y1="134.6" x2="337.5" y2="134.6" stroke="#111" stroke-width="1.3"/>
<line x1="368.5" y1="135.8" x2="368.5" y2="129.6" stroke="#111" stroke-width="1.1"/>
<line x1="365.9" y1="129.6" x2="371.1" y2="129.6" stroke="#111" stroke-width="1.3"/>
<line x1="402.1" y1="134.6" x2="402.1" y2="127.9" stroke="#111" stroke-width="1.1"/>
<line x1="399.5" y1="127.9" x2="404.70000000000005" y2="127.9" stroke="#111" stroke-width="1.3"/>
<polyline points="301.3,167.1 334.9,140.8 368.5,135.8 402.1,134.6" fill="none" stroke="#111" stroke-width="1.25"/>
<line x1="368.5" y1="113.0" x2="368.5" y2="102.6" stroke="#111" stroke-width="1.1"/>
<line x1="365.9" y1="102.6" x2="371.1" y2="102.6" stroke="#111" stroke-width="1.3"/>
<line x1="402.1" y1="120.2" x2="402.1" y2="106.4" stroke="#111" stroke-width="1.1"/>
<line x1="399.5" y1="106.4" x2="404.70000000000005" y2="106.4" stroke="#111" stroke-width="1.3"/>
<polyline points="301.3,167.1 334.9,146.2 368.5,113.0 402.1,120.2" fill="none" stroke="#111" stroke-width="1.25"/>
<line x1="368.5" y1="136.5" x2="368.5" y2="127.2" stroke="#111" stroke-width="1.1"/>
<line x1="365.9" y1="127.2" x2="371.1" y2="127.2" stroke="#111" stroke-width="1.3"/>
<line x1="402.1" y1="122.4" x2="402.1" y2="112.5" stroke="#111" stroke-width="1.1"/>
<line x1="399.5" y1="112.5" x2="404.70000000000005" y2="112.5" stroke="#111" stroke-width="1.3"/>
<polyline points="301.3,167.1 334.9,147.9 368.5,136.5 402.1,122.4" fill="none" stroke="#111" stroke-width="1.25"/>
<line x1="334.9" y1="95.0" x2="334.9" y2="80.8" stroke="#111" stroke-width="1.1"/>
<line x1="332.29999999999995" y1="80.8" x2="337.5" y2="80.8" stroke="#111" stroke-width="1.3"/>
<line x1="368.5" y1="63.9" x2="368.5" y2="31.0" stroke="#111" stroke-width="1.1"/>
<line x1="365.9" y1="31.0" x2="371.1" y2="31.0" stroke="#111" stroke-width="1.3"/>
<line x1="402.1" y1="87.6" x2="402.1" y2="83.2" stroke="#111" stroke-width="1.1"/>
<line x1="399.5" y1="83.2" x2="404.70000000000005" y2="83.2" stroke="#111" stroke-width="1.3"/>
<polyline points="301.3,167.1 334.9,95.0 368.5,63.9 402.1,87.6" fill="none" stroke="#111" stroke-width="1.25"/>
<circle cx="301.3" cy="167.1" r="1.65" fill="#fff" stroke="#111" stroke-width="1.1"/>
<circle cx="334.9" cy="167.1" r="1.65" fill="#fff" stroke="#111" stroke-width="1.1"/>
<circle cx="368.5" cy="167.1" r="1.65" fill="#fff" stroke="#111" stroke-width="1.1"/>
<circle cx="402.1" cy="167.1" r="1.65" fill="#fff" stroke="#111" stroke-width="1.1"/>
<polygon points="298.7,165.1 303.9,165.1 301.3,170.0" fill="#111"/>
<polygon points="332.3,138.8 337.5,138.8 334.9,143.7" fill="#111"/>
<polygon points="365.9,133.8 371.1,133.8 368.5,138.7" fill="#111"/>
<polygon points="399.5,132.6 404.7,132.6 402.1,137.5" fill="#111"/>
<polygon points="299.3,168.7 303.3,168.7 301.3,164.8" fill="#fff" stroke="#111" stroke-width="1.0"/>
<polygon points="332.9,147.8 336.9,147.8 334.9,143.9" fill="#fff" stroke="#111" stroke-width="1.0"/>
<polygon points="366.5,114.6 370.5,114.6 368.5,110.7" fill="#fff" stroke="#111" stroke-width="1.0"/>
<polygon points="400.1,121.8 404.1,121.8 402.1,117.9" fill="#fff" stroke="#111" stroke-width="1.0"/>
<rect x="299.5" y="165.3" width="3.6" height="3.6" fill="#fff" stroke="#111" stroke-width="1.1"/>
<rect x="333.1" y="146.1" width="3.6" height="3.6" fill="#fff" stroke="#111" stroke-width="1.1"/>
<rect x="366.7" y="134.7" width="3.6" height="3.6" fill="#fff" stroke="#111" stroke-width="1.1"/>
<rect x="400.3" y="120.6" width="3.6" height="3.6" fill="#fff" stroke="#111" stroke-width="1.1"/>
<circle cx="301.3" cy="167.1" r="2.05" fill="#111"/>
<circle cx="334.9" cy="95.0" r="2.05" fill="#111"/>
<circle cx="368.5" cy="63.9" r="2.05" fill="#111"/>
<circle cx="402.1" cy="87.6" r="2.05" fill="#111"/>
<text transform="translate(260.7,284.8) scale(0.95,1)" font-size="28.2" font-weight="700" fill="#111" stroke="#111" stroke-width="0.3">D</text>
<rect x="300.8" y="273.7" width="112.80000000000001" height="169.10000000000002" fill="#fff" stroke="#111" stroke-width="1.3"/>
<line x1="297.8" y1="273.7" x2="300.8" y2="273.7" stroke="#111" stroke-width="1.1"/>
<text x="297.3" y="277.7" font-size="10.2" text-anchor="end" stroke="#111" stroke-width="0.22" fill="#111" >100</text>
<line x1="297.8" y1="316.2" x2="300.8" y2="316.2" stroke="#111" stroke-width="1.1"/>
<text x="297.3" y="320.2" font-size="10.2" text-anchor="end" stroke="#111" stroke-width="0.22" fill="#111" >75</text>
<line x1="297.8" y1="358.6" x2="300.8" y2="358.6" stroke="#111" stroke-width="1.1"/>
<text x="297.3" y="362.6" font-size="10.2" text-anchor="end" stroke="#111" stroke-width="0.22" fill="#111" >50</text>
<line x1="297.8" y1="400.8" x2="300.8" y2="400.8" stroke="#111" stroke-width="1.1"/>
<text x="297.3" y="404.8" font-size="10.2" text-anchor="end" stroke="#111" stroke-width="0.22" fill="#111" >25</text>
<line x1="297.8" y1="442.8" x2="300.8" y2="442.8" stroke="#111" stroke-width="1.1"/>
<text x="297.3" y="446.8" font-size="10.2" text-anchor="end" stroke="#111" stroke-width="0.22" fill="#111" >0</text>
<line x1="301.3" y1="442.8" x2="301.3" y2="446.2" stroke="#111" stroke-width="1.1"/>
<text x="301.3" y="455.6" font-size="10.6" text-anchor="middle" stroke="#111" stroke-width="0.22" fill="#111" >0</text>
<line x1="334.9" y1="442.8" x2="334.9" y2="446.2" stroke="#111" stroke-width="1.1"/>
<text x="334.9" y="455.6" font-size="10.6" text-anchor="middle" stroke="#111" stroke-width="0.22" fill="#111" >24</text>
<line x1="368.5" y1="442.8" x2="368.5" y2="446.2" stroke="#111" stroke-width="1.1"/>
<text x="368.5" y="455.6" font-size="10.6" text-anchor="middle" stroke="#111" stroke-width="0.22" fill="#111" >48</text>
<line x1="402.1" y1="442.8" x2="402.1" y2="446.2" stroke="#111" stroke-width="1.1"/>
<text x="402.1" y="455.6" font-size="10.6" text-anchor="middle" stroke="#111" stroke-width="0.22" fill="#111" >72</text>
<text x="358.7" y="471.8" font-size="10.35" text-anchor="middle" font-weight="700" stroke="#111" stroke-width="0.3" fill="#111" >Time (hours)</text>
<text transform="translate(274.8,361.3) rotate(-90)" font-size="10.4" font-weight="700" text-anchor="middle" fill="#111" stroke="#111" stroke-width="0.3">% HLA-DR-positive cells</text>
<polyline points="301.3,434.8 334.9,433 368.5,435.5 402.1,436.5" fill="none" stroke="#111" stroke-width="1.25"/>
<polyline points="301.3,434.8 334.9,433.5 368.5,435.5 402.1,437.4" fill="none" stroke="#111" stroke-width="1.25"/>
<line x1="334.9" y1="373.3" x2="334.9" y2="355.2" stroke="#111" stroke-width="1.1"/>
<line x1="332.29999999999995" y1="355.2" x2="337.5" y2="355.2" stroke="#111" stroke-width="1.3"/>
<line x1="368.5" y1="303.6" x2="368.5" y2="297.1" stroke="#111" stroke-width="1.1"/>
<line x1="365.9" y1="297.1" x2="371.1" y2="297.1" stroke="#111" stroke-width="1.3"/>
<line x1="402.1" y1="302.7" x2="402.1" y2="297.1" stroke="#111" stroke-width="1.1"/>
<line x1="399.5" y1="297.1" x2="404.70000000000005" y2="297.1" stroke="#111" stroke-width="1.3"/>
<polyline points="301.3,434.8 334.9,373.3 368.5,303.6 402.1,302.7" fill="none" stroke="#111" stroke-width="1.25"/>
<line x1="334.9" y1="373.2" x2="334.9" y2="353.5" stroke="#111" stroke-width="1.1"/>
<line x1="332.29999999999995" y1="353.5" x2="337.5" y2="353.5" stroke="#111" stroke-width="1.3"/>
<line x1="368.5" y1="334.4" x2="368.5" y2="319.6" stroke="#111" stroke-width="1.1"/>
<line x1="365.9" y1="319.6" x2="371.1" y2="319.6" stroke="#111" stroke-width="1.3"/>
<line x1="402.1" y1="339.9" x2="402.1" y2="330.4" stroke="#111" stroke-width="1.1"/>
<line x1="399.5" y1="330.4" x2="404.70000000000005" y2="330.4" stroke="#111" stroke-width="1.3"/>
<polyline points="301.3,434.8 334.9,373.2 368.5,334.4 402.1,339.9" fill="none" stroke="#111" stroke-width="1.25"/>
<polyline points="301.3,434.8 334.9,434.6 368.5,435.4 402.1,434.6" fill="none" stroke="#111" stroke-width="1.25"/>
<polyline points="" fill="none" stroke="#111" stroke-width="1.25"/>
<polygon points="298.7,432.8 303.9,432.8 301.3,437.7" fill="#111"/>
<polygon points="332.3,431.0 337.5,431.0 334.9,435.9" fill="#111"/>
<polygon points="365.9,433.5 371.1,433.5 368.5,438.4" fill="#111"/>
<polygon points="399.5,434.5 404.7,434.5 402.1,439.4" fill="#111"/>
<rect x="299.5" y="433.0" width="3.6" height="3.6" fill="#fff" stroke="#111" stroke-width="1.1"/>
<rect x="333.1" y="431.7" width="3.6" height="3.6" fill="#fff" stroke="#111" stroke-width="1.1"/>
<rect x="366.7" y="433.7" width="3.6" height="3.6" fill="#fff" stroke="#111" stroke-width="1.1"/>
<rect x="400.3" y="435.6" width="3.6" height="3.6" fill="#fff" stroke="#111" stroke-width="1.1"/>
<polygon points="299.3,436.4 303.3,436.4 301.3,432.5" fill="#fff" stroke="#111" stroke-width="1.0"/>
<polygon points="332.9,374.9 336.9,374.9 334.9,371.0" fill="#fff" stroke="#111" stroke-width="1.0"/>
<polygon points="366.5,305.2 370.5,305.2 368.5,301.3" fill="#fff" stroke="#111" stroke-width="1.0"/>
<polygon points="400.1,304.3 404.1,304.3 402.1,300.4" fill="#fff" stroke="#111" stroke-width="1.0"/>
<circle cx="301.3" cy="434.8" r="2.05" fill="#111"/>
<circle cx="334.9" cy="373.2" r="2.05" fill="#111"/>
<circle cx="368.5" cy="334.4" r="2.05" fill="#111"/>
<circle cx="402.1" cy="339.9" r="2.05" fill="#111"/>
<circle cx="334.9" cy="434.6" r="1.65" fill="#fff" stroke="#111" stroke-width="1.1"/>
<circle cx="368.5" cy="435.4" r="1.65" fill="#fff" stroke="#111" stroke-width="1.1"/>
<circle cx="402.1" cy="434.6" r="1.65" fill="#fff" stroke="#111" stroke-width="1.1"/>
<line x1="334.9" y1="433" x2="334.9" y2="427.5" stroke="#111" stroke-width="1.1"/><line x1="332.3" y1="427.5" x2="337.5" y2="427.5" stroke="#111" stroke-width="1.1"/>
<line x1="421" y1="70.7" x2="435.4" y2="70.7" stroke="#111" stroke-width="1.35"/>
<circle cx="428.2" cy="70.7" r="2.05" fill="#111"/>
<text x="436.4" y="73.8" font-size="9.2" text-anchor="start" stroke="#111" stroke-width="0.22" fill="#111" >IL-1-<tspan font-family='"Liberation Serif", serif' font-weight="400" font-size="108%">β</tspan>+TNF-<tspan font-family='"Liberation Serif", serif' font-weight="400" font-size="108%">α</tspan>+IFN-<tspan font-family='"Liberation Serif", serif' font-weight="400" font-size="108%">γ</tspan></text>
<line x1="421" y1="85.0" x2="435.4" y2="85.0" stroke="#111" stroke-width="1.35"/>
<polygon points="426.2,86.6 430.2,86.6 428.2,82.7" fill="#fff" stroke="#111" stroke-width="1.0"/>
<text x="436.4" y="88.1" font-size="9.2" text-anchor="start" stroke="#111" stroke-width="0.22" fill="#111" >IFN-<tspan font-family='"Liberation Serif", serif' font-weight="400" font-size="108%">γ</tspan></text>
<line x1="421" y1="99.5" x2="435.4" y2="99.5" stroke="#111" stroke-width="1.35"/>
<rect x="426.4" y="97.7" width="3.6" height="3.6" fill="#fff" stroke="#111" stroke-width="1.1"/>
<text x="436.4" y="102.6" font-size="9.2" text-anchor="start" stroke="#111" stroke-width="0.22" fill="#111" >IL-1-<tspan font-family='"Liberation Serif", serif' font-weight="400" font-size="108%">β</tspan></text>
<line x1="421" y1="114.3" x2="435.4" y2="114.3" stroke="#111" stroke-width="1.35"/>
<polygon points="425.6,112.3 430.8,112.3 428.2,117.2" fill="#111"/>
<text x="436.4" y="117.39999999999999" font-size="9.2" text-anchor="start" stroke="#111" stroke-width="0.22" fill="#111" >TNF-<tspan font-family='"Liberation Serif", serif' font-weight="400" font-size="108%">α</tspan></text>
<line x1="421" y1="129.5" x2="435.4" y2="129.5" stroke="#111" stroke-width="1.35"/>
<circle cx="428.2" cy="129.5" r="1.65" fill="#fff" stroke="#111" stroke-width="1.1"/>
<text x="436.4" y="132.6" font-size="9.2" text-anchor="start" stroke="#111" stroke-width="0.22" fill="#111" >medium</text>
<line x1="420.6" y1="334.7" x2="434.3" y2="334.7" stroke="#111" stroke-width="1.35"/>
<circle cx="427.5" cy="334.7" r="2.05" fill="#111"/>
<text x="435.8" y="337.8" font-size="9.1" text-anchor="start" stroke="#111" stroke-width="0.22" fill="#111" >IL-1-<tspan font-family='"Liberation Serif", serif' font-weight="400" font-size="108%">β</tspan>+TNF-<tspan font-family='"Liberation Serif", serif' font-weight="400" font-size="108%">α</tspan>+IFN-<tspan font-family='"Liberation Serif", serif' font-weight="400" font-size="108%">γ</tspan></text>
<line x1="420.6" y1="348.9" x2="434.3" y2="348.9" stroke="#111" stroke-width="1.35"/>
<polygon points="425.5,350.5 429.5,350.5 427.5,346.6" fill="#fff" stroke="#111" stroke-width="1.0"/>
<text x="435.8" y="352.0" font-size="9.1" text-anchor="start" stroke="#111" stroke-width="0.22" fill="#111" >IFN-<tspan font-family='"Liberation Serif", serif' font-weight="400" font-size="108%">γ</tspan></text>
<line x1="420.6" y1="362.2" x2="434.3" y2="362.2" stroke="#111" stroke-width="1.35"/>
<rect x="425.7" y="360.4" width="3.6" height="3.6" fill="#fff" stroke="#111" stroke-width="1.1"/>
<text x="435.8" y="365.3" font-size="9.1" text-anchor="start" stroke="#111" stroke-width="0.22" fill="#111" >IL-1-<tspan font-family='"Liberation Serif", serif' font-weight="400" font-size="108%">β</tspan></text>
<line x1="420.6" y1="376.6" x2="434.3" y2="376.6" stroke="#111" stroke-width="1.35"/>
<polygon points="424.9,374.6 430.1,374.6 427.5,379.5" fill="#111"/>
<text x="435.8" y="379.70000000000005" font-size="9.1" text-anchor="start" stroke="#111" stroke-width="0.22" fill="#111" >TNF-<tspan font-family='"Liberation Serif", serif' font-weight="400" font-size="108%">α</tspan></text>
<line x1="420.6" y1="389.6" x2="434.3" y2="389.6" stroke="#111" stroke-width="1.35"/>
<circle cx="427.5" cy="389.6" r="1.65" fill="#fff" stroke="#111" stroke-width="1.1"/>
<text x="435.8" y="392.70000000000005" font-size="9.1" text-anchor="start" stroke="#111" stroke-width="0.22" fill="#111" >medium</text>
</svg>
</body></html>
